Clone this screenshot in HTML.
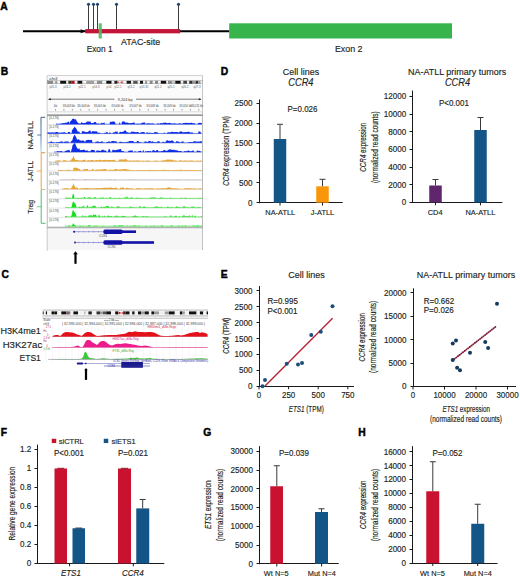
<!DOCTYPE html>
<html><head><meta charset="utf-8"><style>
html,body{margin:0;padding:0;background:#fff;}
svg{display:block;font-family:"Liberation Sans", sans-serif;}
text.t{stroke:#231f20;stroke-width:0.16px;paint-order:stroke;}
</style></head><body>
<svg width="520" height="578" viewBox="0 0 520 578">
<text x="0.30" y="9.60" font-size="10.3" text-anchor="start" font-weight="bold" font-style="normal" fill="#000" stroke="#000" stroke-width="0.45">A</text>
<text x="0.80" y="74.90" font-size="10.3" text-anchor="start" font-weight="bold" font-style="normal" fill="#000" stroke="#000" stroke-width="0.45">B</text>
<text x="1.50" y="278.20" font-size="10.3" text-anchor="start" font-weight="bold" font-style="normal" fill="#000" stroke="#000" stroke-width="0.45">C</text>
<text x="220.80" y="74.60" font-size="10.3" text-anchor="start" font-weight="bold" font-style="normal" fill="#000" stroke="#000" stroke-width="0.45">D</text>
<text x="220.80" y="277.60" font-size="10.3" text-anchor="start" font-weight="bold" font-style="normal" fill="#000" stroke="#000" stroke-width="0.45">E</text>
<text x="0.80" y="436.30" font-size="10.3" text-anchor="start" font-weight="bold" font-style="normal" fill="#000" stroke="#000" stroke-width="0.45">F</text>
<text x="203.20" y="436.30" font-size="10.3" text-anchor="start" font-weight="bold" font-style="normal" fill="#000" stroke="#000" stroke-width="0.45">G</text>
<text x="358.30" y="436.30" font-size="10.3" text-anchor="start" font-weight="bold" font-style="normal" fill="#000" stroke="#000" stroke-width="0.45">H</text>
<line x1="23.00" y1="31.25" x2="229.50" y2="31.25" stroke="#000" stroke-width="1.9" />
<polygon points="80.6,29.2 85.8,31.25 80.6,33.3" fill="#000"/>
<rect x="85.30" y="29.05" width="94.90" height="4.30" fill="#c3143a" />
<line x1="88.50" y1="4.50" x2="88.50" y2="29.40" stroke="#3c3c3c" stroke-width="1.0" />
<circle cx="88.5" cy="4.3" r="1.55" fill="#1f4670"/>
<line x1="93.50" y1="4.50" x2="93.50" y2="29.40" stroke="#3c3c3c" stroke-width="1.0" />
<circle cx="93.5" cy="4.3" r="1.55" fill="#1f4670"/>
<line x1="97.50" y1="4.50" x2="97.50" y2="29.40" stroke="#3c3c3c" stroke-width="1.0" />
<circle cx="97.5" cy="4.3" r="1.55" fill="#1f4670"/>
<line x1="116.50" y1="4.50" x2="116.50" y2="29.40" stroke="#3c3c3c" stroke-width="1.0" />
<circle cx="116.5" cy="4.3" r="1.55" fill="#1f4670"/>
<line x1="178.50" y1="4.50" x2="178.50" y2="29.40" stroke="#3c3c3c" stroke-width="1.0" />
<circle cx="178.5" cy="4.3" r="1.55" fill="#1f4670"/>
<rect x="98.70" y="23.30" width="3.10" height="15.20" fill="#4cbb5e" opacity="0.9"/>
<rect x="229.20" y="23.30" width="222.80" height="15.20" fill="#37b44b" />
<text class="t" transform="translate(86.70,51.90) scale(0.925,1)" font-size="8.96" text-anchor="start" font-weight="normal" font-style="normal" fill="#231f20" >Exon 1</text>
<text class="t" transform="translate(121.00,44.90) scale(0.925,1)" font-size="9.61" text-anchor="start" font-weight="normal" font-style="normal" fill="#231f20" >ATAC-site</text>
<text class="t" transform="translate(334.90,52.10) scale(0.925,1)" font-size="9.61" text-anchor="start" font-weight="normal" font-style="normal" fill="#231f20" >Exon 2</text>
<text class="t" transform="translate(300.90,74.50) scale(0.925,1)" font-size="9.72" text-anchor="middle" font-weight="normal" font-style="normal" fill="#231f20" >Cell lines</text>
<text class="t" transform="translate(300.90,86.30) scale(0.925,1)" font-size="10.04" text-anchor="middle" font-weight="normal" font-style="italic" fill="#231f20" >CCR4</text>
<line x1="259.50" y1="99.50" x2="259.50" y2="203.20" stroke="#1a1a1a" stroke-width="1.0" />
<line x1="256.50" y1="202.50" x2="259.50" y2="202.50" stroke="#1a1a1a" stroke-width="1.0" />
<text class="t" transform="translate(252.50,205.62) scale(0.925,1)" font-size="8.75" text-anchor="end" font-weight="normal" font-style="normal" fill="#231f20" >0</text>
<line x1="256.50" y1="182.50" x2="259.50" y2="182.50" stroke="#1a1a1a" stroke-width="1.0" />
<text class="t" transform="translate(252.50,185.72) scale(0.925,1)" font-size="8.75" text-anchor="end" font-weight="normal" font-style="normal" fill="#231f20" >500</text>
<line x1="256.50" y1="162.50" x2="259.50" y2="162.50" stroke="#1a1a1a" stroke-width="1.0" />
<text class="t" transform="translate(252.50,165.82) scale(0.925,1)" font-size="8.75" text-anchor="end" font-weight="normal" font-style="normal" fill="#231f20" >1000</text>
<line x1="256.50" y1="143.50" x2="259.50" y2="143.50" stroke="#1a1a1a" stroke-width="1.0" />
<text class="t" transform="translate(252.50,145.92) scale(0.925,1)" font-size="8.75" text-anchor="end" font-weight="normal" font-style="normal" fill="#231f20" >1500</text>
<line x1="256.50" y1="123.50" x2="259.50" y2="123.50" stroke="#1a1a1a" stroke-width="1.0" />
<text class="t" transform="translate(252.50,126.02) scale(0.925,1)" font-size="8.75" text-anchor="end" font-weight="normal" font-style="normal" fill="#231f20" >2000</text>
<line x1="256.50" y1="103.50" x2="259.50" y2="103.50" stroke="#1a1a1a" stroke-width="1.0" />
<text class="t" transform="translate(252.50,106.12) scale(0.925,1)" font-size="8.75" text-anchor="end" font-weight="normal" font-style="normal" fill="#231f20" >2500</text>
<line x1="258.50" y1="202.50" x2="342.70" y2="202.50" stroke="#1a1a1a" stroke-width="1.0" />
<rect x="273.75" y="139.02" width="12.50" height="63.68" fill="#145587" />
<line x1="280.00" y1="124.30" x2="280.00" y2="139.02" stroke="#3a3a3a" stroke-width="1.0" />
<line x1="277.00" y1="124.30" x2="283.00" y2="124.30" stroke="#3a3a3a" stroke-width="1.0" />
<rect x="316.25" y="186.30" width="12.50" height="16.40" fill="#fa960a" />
<line x1="322.50" y1="179.30" x2="322.50" y2="186.30" stroke="#3a3a3a" stroke-width="1.0" />
<line x1="319.50" y1="179.30" x2="325.50" y2="179.30" stroke="#3a3a3a" stroke-width="1.0" />
<line x1="280.00" y1="202.70" x2="280.00" y2="205.50" stroke="#1a1a1a" stroke-width="1.0" />
<line x1="322.50" y1="202.70" x2="322.50" y2="205.50" stroke="#1a1a1a" stroke-width="1.0" />
<text class="t" transform="translate(302.50,111.65) scale(0.925,1)" font-size="8.64" text-anchor="middle" font-weight="normal" font-style="normal" fill="#231f20" >P=0.026</text>
<text class="t" transform="translate(280.20,215.20) scale(0.925,1)" font-size="7.99" text-anchor="middle" font-weight="normal" font-style="normal" fill="#231f20" >NA-ATLL</text>
<text class="t" transform="translate(322.50,215.20) scale(0.925,1)" font-size="7.99" text-anchor="middle" font-weight="normal" font-style="normal" fill="#231f20" >J-ATLL</text>
<text class="t" x="0" y="0" font-size="8.40" text-anchor="middle" fill="#231f20" transform="translate(228.60,150.90) rotate(-90)" textLength="69.8" lengthAdjust="spacingAndGlyphs" ><tspan font-style="italic">CCR4</tspan> expression (TPM)</text>
<text class="t" transform="translate(457.10,74.50) scale(0.925,1)" font-size="9.72" text-anchor="middle" font-weight="normal" font-style="normal" fill="#231f20" >NA-ATLL primary tumors</text>
<text class="t" transform="translate(457.50,86.30) scale(0.925,1)" font-size="10.04" text-anchor="middle" font-weight="normal" font-style="italic" fill="#231f20" >CCR4</text>
<line x1="412.50" y1="90.50" x2="412.50" y2="203.00" stroke="#1a1a1a" stroke-width="1.0" />
<line x1="409.50" y1="202.50" x2="412.50" y2="202.50" stroke="#1a1a1a" stroke-width="1.0" />
<text class="t" transform="translate(406.25,205.42) scale(0.925,1)" font-size="8.75" text-anchor="end" font-weight="normal" font-style="normal" fill="#231f20" >0</text>
<line x1="409.50" y1="184.50" x2="412.50" y2="184.50" stroke="#1a1a1a" stroke-width="1.0" />
<text class="t" transform="translate(406.25,187.72) scale(0.925,1)" font-size="8.75" text-anchor="end" font-weight="normal" font-style="normal" fill="#231f20" >2000</text>
<line x1="409.50" y1="167.50" x2="412.50" y2="167.50" stroke="#1a1a1a" stroke-width="1.0" />
<text class="t" transform="translate(406.25,170.02) scale(0.925,1)" font-size="8.75" text-anchor="end" font-weight="normal" font-style="normal" fill="#231f20" >4000</text>
<line x1="409.50" y1="149.50" x2="412.50" y2="149.50" stroke="#1a1a1a" stroke-width="1.0" />
<text class="t" transform="translate(406.25,152.32) scale(0.925,1)" font-size="8.75" text-anchor="end" font-weight="normal" font-style="normal" fill="#231f20" >6000</text>
<line x1="409.50" y1="131.50" x2="412.50" y2="131.50" stroke="#1a1a1a" stroke-width="1.0" />
<text class="t" transform="translate(406.25,134.62) scale(0.925,1)" font-size="8.75" text-anchor="end" font-weight="normal" font-style="normal" fill="#231f20" >8000</text>
<line x1="409.50" y1="114.50" x2="412.50" y2="114.50" stroke="#1a1a1a" stroke-width="1.0" />
<text class="t" transform="translate(406.25,116.92) scale(0.925,1)" font-size="8.75" text-anchor="end" font-weight="normal" font-style="normal" fill="#231f20" >10000</text>
<line x1="409.50" y1="96.50" x2="412.50" y2="96.50" stroke="#1a1a1a" stroke-width="1.0" />
<text class="t" transform="translate(406.25,99.22) scale(0.925,1)" font-size="8.75" text-anchor="end" font-weight="normal" font-style="normal" fill="#231f20" >12000</text>
<line x1="412.25" y1="202.50" x2="502.30" y2="202.50" stroke="#1a1a1a" stroke-width="1.0" />
<rect x="429.25" y="185.50" width="12.50" height="17.00" fill="#5f266e" />
<line x1="435.50" y1="179.50" x2="435.50" y2="185.50" stroke="#3a3a3a" stroke-width="1.0" />
<line x1="432.50" y1="179.50" x2="438.50" y2="179.50" stroke="#3a3a3a" stroke-width="1.0" />
<rect x="474.25" y="130.00" width="12.50" height="72.50" fill="#145587" />
<line x1="480.50" y1="117.50" x2="480.50" y2="130.00" stroke="#3a3a3a" stroke-width="1.0" />
<line x1="477.50" y1="117.50" x2="483.50" y2="117.50" stroke="#3a3a3a" stroke-width="1.0" />
<line x1="435.50" y1="202.50" x2="435.50" y2="205.30" stroke="#1a1a1a" stroke-width="1.0" />
<line x1="480.50" y1="202.50" x2="480.50" y2="205.30" stroke="#1a1a1a" stroke-width="1.0" />
<text class="t" transform="translate(453.90,105.90) scale(0.925,1)" font-size="8.64" text-anchor="middle" font-weight="normal" font-style="normal" fill="#231f20" >P&lt;0.001</text>
<text class="t" transform="translate(435.10,215.20) scale(0.925,1)" font-size="7.99" text-anchor="middle" font-weight="normal" font-style="normal" fill="#231f20" >CD4</text>
<text class="t" transform="translate(480.40,215.20) scale(0.925,1)" font-size="7.99" text-anchor="middle" font-weight="normal" font-style="normal" fill="#231f20" >NA-ATLL</text>
<text class="t" x="0" y="0" font-size="8.40" text-anchor="middle" fill="#231f20" transform="translate(366.20,147.20) rotate(-90)" textLength="48.9" lengthAdjust="spacingAndGlyphs" ><tspan font-style="italic">CCR4</tspan> expression</text>
<text class="t" x="0" y="0" font-size="8.40" text-anchor="middle" fill="#231f20" transform="translate(377.90,147.20) rotate(-90)" textLength="71.7" lengthAdjust="spacingAndGlyphs" >(normalized read counts)</text>
<text class="t" transform="translate(306.50,277.50) scale(0.925,1)" font-size="9.72" text-anchor="middle" font-weight="normal" font-style="normal" fill="#231f20" >Cell lines</text>
<line x1="259.50" y1="286.00" x2="259.50" y2="386.80" stroke="#1a1a1a" stroke-width="1.0" />
<line x1="256.50" y1="386.50" x2="259.50" y2="386.50" stroke="#1a1a1a" stroke-width="1.0" />
<text class="t" transform="translate(252.50,389.22) scale(0.925,1)" font-size="8.75" text-anchor="end" font-weight="normal" font-style="normal" fill="#231f20" >0</text>
<line x1="256.50" y1="370.50" x2="259.50" y2="370.50" stroke="#1a1a1a" stroke-width="1.0" />
<text class="t" transform="translate(252.50,373.32) scale(0.925,1)" font-size="8.75" text-anchor="end" font-weight="normal" font-style="normal" fill="#231f20" >500</text>
<line x1="256.50" y1="354.50" x2="259.50" y2="354.50" stroke="#1a1a1a" stroke-width="1.0" />
<text class="t" transform="translate(252.50,357.42) scale(0.925,1)" font-size="8.75" text-anchor="end" font-weight="normal" font-style="normal" fill="#231f20" >1000</text>
<line x1="256.50" y1="338.50" x2="259.50" y2="338.50" stroke="#1a1a1a" stroke-width="1.0" />
<text class="t" transform="translate(252.50,341.52) scale(0.925,1)" font-size="8.75" text-anchor="end" font-weight="normal" font-style="normal" fill="#231f20" >1500</text>
<line x1="256.50" y1="322.50" x2="259.50" y2="322.50" stroke="#1a1a1a" stroke-width="1.0" />
<text class="t" transform="translate(252.50,325.62) scale(0.925,1)" font-size="8.75" text-anchor="end" font-weight="normal" font-style="normal" fill="#231f20" >2000</text>
<line x1="256.50" y1="306.50" x2="259.50" y2="306.50" stroke="#1a1a1a" stroke-width="1.0" />
<text class="t" transform="translate(252.50,309.72) scale(0.925,1)" font-size="8.75" text-anchor="end" font-weight="normal" font-style="normal" fill="#231f20" >2500</text>
<line x1="256.50" y1="290.50" x2="259.50" y2="290.50" stroke="#1a1a1a" stroke-width="1.0" />
<text class="t" transform="translate(252.50,293.82) scale(0.925,1)" font-size="8.75" text-anchor="end" font-weight="normal" font-style="normal" fill="#231f20" >3000</text>
<line x1="258.50" y1="386.50" x2="354.00" y2="386.50" stroke="#1a1a1a" stroke-width="1.0" />
<line x1="259.00" y1="386.30" x2="259.00" y2="389.30" stroke="#1a1a1a" stroke-width="1.0" />
<text class="t" transform="translate(259.00,398.40) scale(0.925,1)" font-size="8.64" text-anchor="middle" font-weight="normal" font-style="normal" fill="#231f20" >0</text>
<line x1="288.60" y1="386.30" x2="288.60" y2="389.30" stroke="#1a1a1a" stroke-width="1.0" />
<text class="t" transform="translate(288.60,398.40) scale(0.925,1)" font-size="8.64" text-anchor="middle" font-weight="normal" font-style="normal" fill="#231f20" >250</text>
<line x1="318.20" y1="386.30" x2="318.20" y2="389.30" stroke="#1a1a1a" stroke-width="1.0" />
<text class="t" transform="translate(318.20,398.40) scale(0.925,1)" font-size="8.64" text-anchor="middle" font-weight="normal" font-style="normal" fill="#231f20" >500</text>
<line x1="347.80" y1="386.30" x2="347.80" y2="389.30" stroke="#1a1a1a" stroke-width="1.0" />
<text class="t" transform="translate(347.80,398.40) scale(0.925,1)" font-size="8.64" text-anchor="middle" font-weight="normal" font-style="normal" fill="#231f20" >750</text>
<line x1="265.00" y1="386.00" x2="332.60" y2="318.20" stroke="#b81c34" stroke-width="1.3" />
<circle cx="262.5" cy="386.25" r="2.0" fill="#1c4f7c"/>
<circle cx="265" cy="380" r="2.0" fill="#1c4f7c"/>
<circle cx="286.75" cy="363.75" r="2.0" fill="#1c4f7c"/>
<circle cx="298" cy="364.5" r="2.0" fill="#1c4f7c"/>
<circle cx="302" cy="363" r="2.0" fill="#1c4f7c"/>
<circle cx="311.25" cy="335" r="2.0" fill="#1c4f7c"/>
<circle cx="320.75" cy="331.75" r="2.0" fill="#1c4f7c"/>
<circle cx="332.5" cy="306.25" r="2.0" fill="#1c4f7c"/>
<text class="t" transform="translate(267.50,304.15) scale(0.925,1)" font-size="8.64" text-anchor="start" font-weight="normal" font-style="normal" fill="#231f20" >R=0.995</text>
<text class="t" transform="translate(267.50,314.15) scale(0.925,1)" font-size="8.64" text-anchor="start" font-weight="normal" font-style="normal" fill="#231f20" >P&lt;0.001</text>
<text class="t" x="306.25" y="411.65" font-size="8.30" text-anchor="middle" font-weight="normal" font-style="normal" fill="#231f20" textLength="35" lengthAdjust="spacingAndGlyphs" ><tspan font-style="italic">ETS1</tspan> (TPM)</text>
<text class="t" x="0" y="0" font-size="8.40" text-anchor="middle" fill="#231f20" transform="translate(228.70,335.80) rotate(-90)" textLength="35.8" lengthAdjust="spacingAndGlyphs" ><tspan font-style="italic">CCR4</tspan> (TPM)</text>
<text class="t" transform="translate(466.00,277.50) scale(0.925,1)" font-size="9.72" text-anchor="middle" font-weight="normal" font-style="normal" fill="#231f20" >NA-ATLL primary tumors</text>
<line x1="413.50" y1="288.30" x2="413.50" y2="387.00" stroke="#1a1a1a" stroke-width="1.0" />
<line x1="410.50" y1="386.50" x2="413.50" y2="386.50" stroke="#1a1a1a" stroke-width="1.0" />
<text class="t" transform="translate(406.50,389.42) scale(0.925,1)" font-size="8.75" text-anchor="end" font-weight="normal" font-style="normal" fill="#231f20" >0</text>
<line x1="410.50" y1="363.50" x2="413.50" y2="363.50" stroke="#1a1a1a" stroke-width="1.0" />
<text class="t" transform="translate(406.50,366.02) scale(0.925,1)" font-size="8.75" text-anchor="end" font-weight="normal" font-style="normal" fill="#231f20" >5000</text>
<line x1="410.50" y1="339.50" x2="413.50" y2="339.50" stroke="#1a1a1a" stroke-width="1.0" />
<text class="t" transform="translate(406.50,342.62) scale(0.925,1)" font-size="8.75" text-anchor="end" font-weight="normal" font-style="normal" fill="#231f20" >10000</text>
<line x1="410.50" y1="316.50" x2="413.50" y2="316.50" stroke="#1a1a1a" stroke-width="1.0" />
<text class="t" transform="translate(406.50,319.22) scale(0.925,1)" font-size="8.75" text-anchor="end" font-weight="normal" font-style="normal" fill="#231f20" >15000</text>
<line x1="410.50" y1="292.50" x2="413.50" y2="292.50" stroke="#1a1a1a" stroke-width="1.0" />
<text class="t" transform="translate(406.50,295.82) scale(0.925,1)" font-size="8.75" text-anchor="end" font-weight="normal" font-style="normal" fill="#231f20" >20000</text>
<line x1="412.50" y1="386.50" x2="516.00" y2="386.50" stroke="#1a1a1a" stroke-width="1.0" />
<line x1="413.00" y1="386.50" x2="413.00" y2="389.50" stroke="#1a1a1a" stroke-width="1.0" />
<text class="t" transform="translate(413.00,398.40) scale(0.925,1)" font-size="8.64" text-anchor="middle" font-weight="normal" font-style="normal" fill="#231f20" >0</text>
<line x1="444.50" y1="386.50" x2="444.50" y2="389.50" stroke="#1a1a1a" stroke-width="1.0" />
<text class="t" transform="translate(444.50,398.40) scale(0.925,1)" font-size="8.64" text-anchor="middle" font-weight="normal" font-style="normal" fill="#231f20" >10000</text>
<line x1="476.00" y1="386.50" x2="476.00" y2="389.50" stroke="#1a1a1a" stroke-width="1.0" />
<text class="t" transform="translate(476.00,398.40) scale(0.925,1)" font-size="8.64" text-anchor="middle" font-weight="normal" font-style="normal" fill="#231f20" >20000</text>
<line x1="507.50" y1="386.50" x2="507.50" y2="389.50" stroke="#1a1a1a" stroke-width="1.0" />
<text class="t" transform="translate(507.50,398.40) scale(0.925,1)" font-size="8.64" text-anchor="middle" font-weight="normal" font-style="normal" fill="#231f20" >30000</text>
<line x1="452.75" y1="360.25" x2="496.25" y2="326.25" stroke="#7d1535" stroke-width="1.75" stroke-linecap="round" stroke-dasharray="0.4 1.75"/>
<circle cx="452.75" cy="343.5" r="2.0" fill="#163a5e"/>
<circle cx="456" cy="340.6" r="2.0" fill="#163a5e"/>
<circle cx="452.75" cy="360" r="2.0" fill="#163a5e"/>
<circle cx="457.1" cy="367.75" r="2.0" fill="#163a5e"/>
<circle cx="460" cy="370.25" r="2.0" fill="#163a5e"/>
<circle cx="470" cy="352.75" r="2.0" fill="#163a5e"/>
<circle cx="485.25" cy="341.9" r="2.0" fill="#163a5e"/>
<circle cx="488.1" cy="348.1" r="2.0" fill="#163a5e"/>
<circle cx="497" cy="303.75" r="2.0" fill="#163a5e"/>
<text class="t" transform="translate(423.75,304.15) scale(0.925,1)" font-size="8.64" text-anchor="start" font-weight="normal" font-style="normal" fill="#231f20" >R=0.662</text>
<text class="t" transform="translate(423.75,313.40) scale(0.925,1)" font-size="8.64" text-anchor="start" font-weight="normal" font-style="normal" fill="#231f20" >P=0.026</text>
<text class="t" x="466.25" y="411.65" font-size="8.30" text-anchor="middle" font-weight="normal" font-style="normal" fill="#231f20" textLength="47.5" lengthAdjust="spacingAndGlyphs" ><tspan font-style="italic">ETS1</tspan> expression</text>
<text class="t" x="466.00" y="422.40" font-size="8.30" text-anchor="middle" font-weight="normal" font-style="normal" fill="#231f20" textLength="72" lengthAdjust="spacingAndGlyphs" >(normalized read counts)</text>
<text class="t" x="0" y="0" font-size="8.40" text-anchor="middle" fill="#231f20" transform="translate(365.10,337.30) rotate(-90)" textLength="48.2" lengthAdjust="spacingAndGlyphs" ><tspan font-style="italic">CCR4</tspan> expression</text>
<text class="t" x="0" y="0" font-size="8.40" text-anchor="middle" fill="#231f20" transform="translate(376.30,336.90) rotate(-90)" textLength="72.2" lengthAdjust="spacingAndGlyphs" >(normalized read counts)</text>
<line x1="37.50" y1="444.60" x2="37.50" y2="564.00" stroke="#1a1a1a" stroke-width="1.0" />
<line x1="34.50" y1="563.50" x2="37.50" y2="563.50" stroke="#1a1a1a" stroke-width="1.0" />
<text class="t" transform="translate(31.25,566.42) scale(0.925,1)" font-size="8.75" text-anchor="end" font-weight="normal" font-style="normal" fill="#231f20" >0</text>
<line x1="34.50" y1="544.50" x2="37.50" y2="544.50" stroke="#1a1a1a" stroke-width="1.0" />
<text class="t" transform="translate(31.25,547.42) scale(0.925,1)" font-size="8.75" text-anchor="end" font-weight="normal" font-style="normal" fill="#231f20" >0.2</text>
<line x1="34.50" y1="525.50" x2="37.50" y2="525.50" stroke="#1a1a1a" stroke-width="1.0" />
<text class="t" transform="translate(31.25,528.42) scale(0.925,1)" font-size="8.75" text-anchor="end" font-weight="normal" font-style="normal" fill="#231f20" >0.4</text>
<line x1="34.50" y1="506.50" x2="37.50" y2="506.50" stroke="#1a1a1a" stroke-width="1.0" />
<text class="t" transform="translate(31.25,509.42) scale(0.925,1)" font-size="8.75" text-anchor="end" font-weight="normal" font-style="normal" fill="#231f20" >0.6</text>
<line x1="34.50" y1="487.50" x2="37.50" y2="487.50" stroke="#1a1a1a" stroke-width="1.0" />
<text class="t" transform="translate(31.25,490.42) scale(0.925,1)" font-size="8.75" text-anchor="end" font-weight="normal" font-style="normal" fill="#231f20" >0.8</text>
<line x1="34.50" y1="468.50" x2="37.50" y2="468.50" stroke="#1a1a1a" stroke-width="1.0" />
<text class="t" transform="translate(31.25,471.42) scale(0.925,1)" font-size="8.75" text-anchor="end" font-weight="normal" font-style="normal" fill="#231f20" >1</text>
<line x1="34.50" y1="449.50" x2="37.50" y2="449.50" stroke="#1a1a1a" stroke-width="1.0" />
<text class="t" transform="translate(31.25,452.42) scale(0.925,1)" font-size="8.75" text-anchor="end" font-weight="normal" font-style="normal" fill="#231f20" >1.2</text>
<line x1="37.25" y1="563.50" x2="164.25" y2="563.50" stroke="#1a1a1a" stroke-width="1.0" />
<rect x="54.50" y="468.50" width="12.50" height="95.00" fill="#c81230" />
<rect x="72.50" y="528.25" width="12.50" height="35.25" fill="#145587" />
<rect x="118.00" y="468.50" width="13.00" height="95.00" fill="#c81230" />
<rect x="136.25" y="508.40" width="13.00" height="55.10" fill="#145587" />
<line x1="142.70" y1="499.47" x2="142.70" y2="508.40" stroke="#3a3a3a" stroke-width="1.0" />
<line x1="139.70" y1="499.47" x2="145.70" y2="499.47" stroke="#3a3a3a" stroke-width="1.0" />
<line x1="57.30" y1="468.30" x2="64.20" y2="468.30" stroke="#7a0c1e" stroke-width="0.9" />
<line x1="121.00" y1="468.30" x2="128.00" y2="468.30" stroke="#7a0c1e" stroke-width="0.9" />
<line x1="75.40" y1="528.05" x2="82.20" y2="528.05" stroke="#0c2f50" stroke-width="0.9" />
<line x1="69.60" y1="563.50" x2="69.60" y2="566.30" stroke="#1a1a1a" stroke-width="1.0" />
<line x1="133.30" y1="563.50" x2="133.30" y2="566.30" stroke="#1a1a1a" stroke-width="1.0" />
<rect x="51.75" y="438.75" width="4.50" height="4.30" fill="#c81230" />
<rect x="103.75" y="438.75" width="4.50" height="4.30" fill="#145587" />
<text class="t" transform="translate(58.75,443.95) scale(0.925,1)" font-size="8.10" text-anchor="start" font-weight="normal" font-style="normal" fill="#231f20" >siCTRL</text>
<text class="t" transform="translate(111.50,443.95) scale(0.925,1)" font-size="8.10" text-anchor="start" font-weight="normal" font-style="normal" fill="#231f20" >siETS1</text>
<text class="t" transform="translate(68.90,455.90) scale(0.925,1)" font-size="8.64" text-anchor="middle" font-weight="normal" font-style="normal" fill="#231f20" >P&lt;0.001</text>
<text class="t" transform="translate(133.00,455.90) scale(0.925,1)" font-size="8.64" text-anchor="middle" font-weight="normal" font-style="normal" fill="#231f20" >P=0.021</text>
<text class="t" transform="translate(70.90,576.15) scale(0.925,1)" font-size="8.64" text-anchor="middle" font-weight="normal" font-style="italic" fill="#231f20" >ETS1</text>
<text class="t" transform="translate(132.90,576.15) scale(0.925,1)" font-size="8.64" text-anchor="middle" font-weight="normal" font-style="italic" fill="#231f20" >CCR4</text>
<text class="t" x="0" y="0" font-size="8.40" text-anchor="middle" fill="#231f20" transform="translate(15.00,503.60) rotate(-90)" textLength="73.6" lengthAdjust="spacingAndGlyphs" >Relative gene expression</text>
<line x1="259.50" y1="446.20" x2="259.50" y2="564.25" stroke="#1a1a1a" stroke-width="1.0" />
<line x1="256.50" y1="563.50" x2="259.50" y2="563.50" stroke="#1a1a1a" stroke-width="1.0" />
<text class="t" transform="translate(252.90,566.67) scale(0.925,1)" font-size="8.75" text-anchor="end" font-weight="normal" font-style="normal" fill="#231f20" >0</text>
<line x1="256.50" y1="545.50" x2="259.50" y2="545.50" stroke="#1a1a1a" stroke-width="1.0" />
<text class="t" transform="translate(252.90,547.92) scale(0.925,1)" font-size="8.75" text-anchor="end" font-weight="normal" font-style="normal" fill="#231f20" >5000</text>
<line x1="256.50" y1="526.50" x2="259.50" y2="526.50" stroke="#1a1a1a" stroke-width="1.0" />
<text class="t" transform="translate(252.90,529.17) scale(0.925,1)" font-size="8.75" text-anchor="end" font-weight="normal" font-style="normal" fill="#231f20" >10000</text>
<line x1="256.50" y1="507.50" x2="259.50" y2="507.50" stroke="#1a1a1a" stroke-width="1.0" />
<text class="t" transform="translate(252.90,510.42) scale(0.925,1)" font-size="8.75" text-anchor="end" font-weight="normal" font-style="normal" fill="#231f20" >15000</text>
<line x1="256.50" y1="488.50" x2="259.50" y2="488.50" stroke="#1a1a1a" stroke-width="1.0" />
<text class="t" transform="translate(252.90,491.67) scale(0.925,1)" font-size="8.75" text-anchor="end" font-weight="normal" font-style="normal" fill="#231f20" >20000</text>
<line x1="256.50" y1="470.50" x2="259.50" y2="470.50" stroke="#1a1a1a" stroke-width="1.0" />
<text class="t" transform="translate(252.90,472.92) scale(0.925,1)" font-size="8.75" text-anchor="end" font-weight="normal" font-style="normal" fill="#231f20" >25000</text>
<line x1="256.50" y1="451.50" x2="259.50" y2="451.50" stroke="#1a1a1a" stroke-width="1.0" />
<text class="t" transform="translate(252.90,454.17) scale(0.925,1)" font-size="8.75" text-anchor="end" font-weight="normal" font-style="normal" fill="#231f20" >30000</text>
<line x1="258.90" y1="563.50" x2="338.75" y2="563.50" stroke="#1a1a1a" stroke-width="1.0" />
<rect x="270.25" y="486.25" width="12.75" height="77.50" fill="#c81230" />
<line x1="276.80" y1="465.75" x2="276.80" y2="486.25" stroke="#3a3a3a" stroke-width="1.0" />
<line x1="273.80" y1="465.75" x2="279.80" y2="465.75" stroke="#3a3a3a" stroke-width="1.0" />
<rect x="315.00" y="512.00" width="13.00" height="51.75" fill="#145587" />
<line x1="321.50" y1="508.75" x2="321.50" y2="512.00" stroke="#3a3a3a" stroke-width="1.0" />
<line x1="318.50" y1="508.75" x2="324.50" y2="508.75" stroke="#3a3a3a" stroke-width="1.0" />
<line x1="276.80" y1="563.75" x2="276.80" y2="566.50" stroke="#1a1a1a" stroke-width="1.0" />
<line x1="321.60" y1="563.75" x2="321.60" y2="566.50" stroke="#1a1a1a" stroke-width="1.0" />
<text class="t" transform="translate(294.00,455.90) scale(0.925,1)" font-size="8.64" text-anchor="middle" font-weight="normal" font-style="normal" fill="#231f20" >P=0.039</text>
<text class="t" transform="translate(276.25,575.95) scale(0.925,1)" font-size="7.99" text-anchor="middle" font-weight="normal" font-style="normal" fill="#231f20" >Wt N=5</text>
<text class="t" transform="translate(321.90,575.95) scale(0.925,1)" font-size="7.99" text-anchor="middle" font-weight="normal" font-style="normal" fill="#231f20" >Mut N=4</text>
<text class="t" x="0" y="0" font-size="8.40" text-anchor="middle" fill="#231f20" transform="translate(211.30,504.75) rotate(-90)" textLength="48.5" lengthAdjust="spacingAndGlyphs" ><tspan font-style="italic">ETS1</tspan> expression</text>
<text class="t" x="0" y="0" font-size="8.40" text-anchor="middle" fill="#231f20" transform="translate(222.70,505.00) rotate(-90)" textLength="72.5" lengthAdjust="spacingAndGlyphs" >(normalized read counts)</text>
<line x1="412.50" y1="446.20" x2="412.50" y2="563.75" stroke="#1a1a1a" stroke-width="1.0" />
<line x1="409.50" y1="563.50" x2="412.50" y2="563.50" stroke="#1a1a1a" stroke-width="1.0" />
<text class="t" transform="translate(406.10,566.17) scale(0.925,1)" font-size="8.75" text-anchor="end" font-weight="normal" font-style="normal" fill="#231f20" >0</text>
<line x1="409.50" y1="549.50" x2="412.50" y2="549.50" stroke="#1a1a1a" stroke-width="1.0" />
<text class="t" transform="translate(406.10,552.22) scale(0.925,1)" font-size="8.75" text-anchor="end" font-weight="normal" font-style="normal" fill="#231f20" >2000</text>
<line x1="409.50" y1="535.50" x2="412.50" y2="535.50" stroke="#1a1a1a" stroke-width="1.0" />
<text class="t" transform="translate(406.10,538.27) scale(0.925,1)" font-size="8.75" text-anchor="end" font-weight="normal" font-style="normal" fill="#231f20" >4000</text>
<line x1="409.50" y1="521.50" x2="412.50" y2="521.50" stroke="#1a1a1a" stroke-width="1.0" />
<text class="t" transform="translate(406.10,524.32) scale(0.925,1)" font-size="8.75" text-anchor="end" font-weight="normal" font-style="normal" fill="#231f20" >6000</text>
<line x1="409.50" y1="507.50" x2="412.50" y2="507.50" stroke="#1a1a1a" stroke-width="1.0" />
<text class="t" transform="translate(406.10,510.37) scale(0.925,1)" font-size="8.75" text-anchor="end" font-weight="normal" font-style="normal" fill="#231f20" >8000</text>
<line x1="409.50" y1="493.50" x2="412.50" y2="493.50" stroke="#1a1a1a" stroke-width="1.0" />
<text class="t" transform="translate(406.10,496.42) scale(0.925,1)" font-size="8.75" text-anchor="end" font-weight="normal" font-style="normal" fill="#231f20" >10000</text>
<line x1="409.50" y1="479.50" x2="412.50" y2="479.50" stroke="#1a1a1a" stroke-width="1.0" />
<text class="t" transform="translate(406.10,482.47) scale(0.925,1)" font-size="8.75" text-anchor="end" font-weight="normal" font-style="normal" fill="#231f20" >12000</text>
<line x1="409.50" y1="465.50" x2="412.50" y2="465.50" stroke="#1a1a1a" stroke-width="1.0" />
<text class="t" transform="translate(406.10,468.52) scale(0.925,1)" font-size="8.75" text-anchor="end" font-weight="normal" font-style="normal" fill="#231f20" >14000</text>
<line x1="409.50" y1="451.50" x2="412.50" y2="451.50" stroke="#1a1a1a" stroke-width="1.0" />
<text class="t" transform="translate(406.10,454.57) scale(0.925,1)" font-size="8.75" text-anchor="end" font-weight="normal" font-style="normal" fill="#231f20" >16000</text>
<line x1="412.10" y1="563.50" x2="497.50" y2="563.50" stroke="#1a1a1a" stroke-width="1.0" />
<rect x="426.25" y="491.25" width="13.00" height="72.00" fill="#c81230" />
<line x1="432.80" y1="461.75" x2="432.80" y2="491.25" stroke="#3a3a3a" stroke-width="1.0" />
<line x1="429.80" y1="461.75" x2="435.80" y2="461.75" stroke="#3a3a3a" stroke-width="1.0" />
<rect x="471.25" y="523.75" width="13.00" height="39.50" fill="#145587" />
<line x1="477.70" y1="504.25" x2="477.70" y2="523.75" stroke="#3a3a3a" stroke-width="1.0" />
<line x1="474.70" y1="504.25" x2="480.70" y2="504.25" stroke="#3a3a3a" stroke-width="1.0" />
<line x1="432.80" y1="563.25" x2="432.80" y2="566.00" stroke="#1a1a1a" stroke-width="1.0" />
<line x1="477.70" y1="563.25" x2="477.70" y2="566.00" stroke="#1a1a1a" stroke-width="1.0" />
<text class="t" transform="translate(447.50,456.15) scale(0.925,1)" font-size="8.64" text-anchor="middle" font-weight="normal" font-style="normal" fill="#231f20" >P=0.052</text>
<text class="t" transform="translate(432.50,575.70) scale(0.925,1)" font-size="7.99" text-anchor="middle" font-weight="normal" font-style="normal" fill="#231f20" >Wt N=5</text>
<text class="t" transform="translate(477.75,575.70) scale(0.925,1)" font-size="7.99" text-anchor="middle" font-weight="normal" font-style="normal" fill="#231f20" >Mut N=4</text>
<text class="t" x="0" y="0" font-size="8.40" text-anchor="middle" fill="#231f20" transform="translate(366.30,504.70) rotate(-90)" textLength="48.4" lengthAdjust="spacingAndGlyphs" ><tspan font-style="italic">CCR4</tspan> expression</text>
<text class="t" x="0" y="0" font-size="8.40" text-anchor="middle" fill="#231f20" transform="translate(377.70,505.00) rotate(-90)" textLength="72.5" lengthAdjust="spacingAndGlyphs" >(normalized read counts)</text>
<line x1="47.25" y1="75.75" x2="202.50" y2="75.75" stroke="#9a9a9a" stroke-width="0.6" />
<line x1="47.25" y1="75.75" x2="47.25" y2="250.50" stroke="#9a9a9a" stroke-width="0.7" />
<line x1="202.50" y1="75.75" x2="202.50" y2="250.00" stroke="#9a9a9a" stroke-width="0.7" />
<rect x="47.55" y="76.10" width="154.65" height="39.00" fill="#fbfbfb" />
<text x="49.30" y="79.60" font-size="4.2" text-anchor="start" font-weight="normal" font-style="italic" fill="#333" >chr3</text>
<rect x="47.50" y="80.80" width="5.80" height="3.00" fill="#8a8a8a" />
<rect x="53.30" y="80.80" width="1.90" height="3.00" fill="#e8e8e8" />
<rect x="55.20" y="80.80" width="2.30" height="3.00" fill="#9a9a9a" />
<rect x="57.50" y="80.80" width="2.70" height="3.00" fill="#f4f4f4" />
<rect x="60.20" y="80.80" width="6.20" height="3.00" fill="#111" />
<rect x="66.40" y="80.80" width="1.90" height="3.00" fill="#f4f4f4" />
<rect x="68.30" y="80.80" width="3.50" height="3.00" fill="#3a3420" />
<rect x="71.80" y="80.80" width="3.00" height="3.00" fill="#b01020" />
<rect x="74.80" y="80.80" width="2.70" height="3.00" fill="#f4f4f4" />
<rect x="77.50" y="80.80" width="5.00" height="3.00" fill="#151515" />
<rect x="82.50" y="80.80" width="3.80" height="3.00" fill="#f4f4f4" />
<rect x="86.30" y="80.80" width="7.70" height="3.00" fill="#a0a0a0" />
<rect x="94.00" y="80.80" width="3.00" height="3.00" fill="#f0f0f0" />
<rect x="97.00" y="80.80" width="5.50" height="3.00" fill="#8c8c8c" />
<rect x="102.50" y="80.80" width="3.80" height="3.00" fill="#f4f4f4" />
<rect x="106.30" y="80.80" width="5.40" height="3.00" fill="#111" />
<rect x="111.70" y="80.80" width="2.70" height="3.00" fill="#f4f4f4" />
<rect x="114.40" y="80.80" width="2.60" height="3.00" fill="#222" />
<rect x="117.00" y="80.80" width="5.50" height="3.00" fill="#fff" />
<rect x="122.50" y="80.80" width="1.00" height="3.00" fill="#e0a0a0" />
<rect x="123.50" y="80.80" width="3.10" height="3.00" fill="#f4f4f4" />
<rect x="126.60" y="80.80" width="4.60" height="3.00" fill="#1a1a1a" />
<rect x="131.20" y="80.80" width="2.00" height="3.00" fill="#f4f4f4" />
<rect x="133.20" y="80.80" width="4.60" height="3.00" fill="#555" />
<rect x="137.80" y="80.80" width="2.20" height="3.00" fill="#f4f4f4" />
<rect x="140.00" y="80.80" width="3.20" height="3.00" fill="#111" />
<rect x="143.20" y="80.80" width="1.80" height="3.00" fill="#f4f4f4" />
<rect x="145.00" y="80.80" width="2.40" height="3.00" fill="#999" />
<rect x="147.40" y="80.80" width="2.30" height="3.00" fill="#f4f4f4" />
<rect x="149.70" y="80.80" width="3.10" height="3.00" fill="#888" />
<rect x="152.80" y="80.80" width="2.20" height="3.00" fill="#f4f4f4" />
<rect x="155.00" y="80.80" width="3.20" height="3.00" fill="#8a8a8a" />
<rect x="158.20" y="80.80" width="2.60" height="3.00" fill="#f4f4f4" />
<rect x="160.80" y="80.80" width="5.60" height="3.00" fill="#111" />
<rect x="166.40" y="80.80" width="1.60" height="3.00" fill="#f4f4f4" />
<rect x="168.00" y="80.80" width="3.90" height="3.00" fill="#888" />
<rect x="171.90" y="80.80" width="3.40" height="3.00" fill="#c8c8c8" />
<rect x="175.30" y="80.80" width="5.50" height="3.00" fill="#111" />
<rect x="180.80" y="80.80" width="2.50" height="3.00" fill="#f4f4f4" />
<rect x="183.30" y="80.80" width="3.80" height="3.00" fill="#444" />
<rect x="187.10" y="80.80" width="2.10" height="3.00" fill="#f4f4f4" />
<rect x="189.20" y="80.80" width="3.40" height="3.00" fill="#333" />
<rect x="192.60" y="80.80" width="3.00" height="3.00" fill="#999" />
<rect x="195.60" y="80.80" width="2.50" height="3.00" fill="#333" />
<rect x="198.10" y="80.80" width="2.60" height="3.00" fill="#999" />
<rect x="200.70" y="80.80" width="1.50" height="3.00" fill="#f4f4f4" />
<path d="M117,80.8 L119.8,82.3 L117,83.8 Z M122.5,80.8 L119.8,82.3 L122.5,83.8 Z" fill="#c03030" opacity="0.8"/>
<rect x="47.5" y="80.8" width="154.7" height="3" fill="none" stroke="#666" stroke-width="0.3"/>
<text x="53.00" y="87.80" font-size="2.9" text-anchor="middle" font-weight="normal" font-style="normal" fill="#666" >p25.3</text>
<text x="67.00" y="87.80" font-size="2.9" text-anchor="middle" font-weight="normal" font-style="normal" fill="#666" >p24.2</text>
<text x="82.00" y="87.80" font-size="2.9" text-anchor="middle" font-weight="normal" font-style="normal" fill="#666" >p22.1</text>
<text x="96.00" y="87.80" font-size="2.9" text-anchor="middle" font-weight="normal" font-style="normal" fill="#666" >p14.3</text>
<text x="109.00" y="87.80" font-size="2.9" text-anchor="middle" font-weight="normal" font-style="normal" fill="#666" >p14</text>
<text x="118.00" y="87.80" font-size="2.9" text-anchor="middle" font-weight="normal" font-style="normal" fill="#666" >p12.1</text>
<text x="131.00" y="87.80" font-size="2.9" text-anchor="middle" font-weight="normal" font-style="normal" fill="#666" >q13.2</text>
<text x="144.00" y="87.80" font-size="2.9" text-anchor="middle" font-weight="normal" font-style="normal" fill="#666" >q13.32</text>
<text x="158.00" y="87.80" font-size="2.9" text-anchor="middle" font-weight="normal" font-style="normal" fill="#666" >q21.2</text>
<text x="171.00" y="87.80" font-size="2.9" text-anchor="middle" font-weight="normal" font-style="normal" fill="#666" >q25.1</text>
<text x="185.00" y="87.80" font-size="2.9" text-anchor="middle" font-weight="normal" font-style="normal" fill="#666" >q26.2</text>
<text x="197.00" y="87.80" font-size="2.9" text-anchor="middle" font-weight="normal" font-style="normal" fill="#666" >q27.3</text>
<line x1="48.50" y1="99.20" x2="114.50" y2="99.20" stroke="#222" stroke-width="0.6" />
<line x1="136.00" y1="99.20" x2="201.00" y2="99.20" stroke="#222" stroke-width="0.6" />
<path d="M48.2,99.2 L50.8,98.2 L50.8,100.2 Z M201.4,99.2 L198.8,98.2 L198.8,100.2 Z" fill="#111"/>
<text x="125.20" y="100.60" font-size="3.8" text-anchor="middle" font-weight="normal" font-style="normal" fill="#333" >9,204 bp</text>
<text x="55.50" y="107.20" font-size="2.8" text-anchor="middle" font-weight="normal" font-style="normal" fill="#444" >kb</text>
<text x="68.80" y="107.20" font-size="2.8" text-anchor="middle" font-weight="normal" font-style="normal" fill="#444" >33,003 kb</text>
<text x="83.40" y="107.20" font-size="2.8" text-anchor="middle" font-weight="normal" font-style="normal" fill="#444" >33,004 kb</text>
<text x="99.80" y="107.20" font-size="2.8" text-anchor="middle" font-weight="normal" font-style="normal" fill="#444" >33,005 kb</text>
<text x="117.50" y="107.20" font-size="2.8" text-anchor="middle" font-weight="normal" font-style="normal" fill="#444" >33,006 kb</text>
<text x="135.50" y="107.20" font-size="2.8" text-anchor="middle" font-weight="normal" font-style="normal" fill="#444" >33,007 kb</text>
<text x="152.50" y="107.20" font-size="2.8" text-anchor="middle" font-weight="normal" font-style="normal" fill="#444" >33,008 kb</text>
<text x="169.40" y="107.20" font-size="2.8" text-anchor="middle" font-weight="normal" font-style="normal" fill="#444" >33,009 kb</text>
<text x="185.50" y="107.20" font-size="2.8" text-anchor="middle" font-weight="normal" font-style="normal" fill="#444" >33,010 kb</text>
<text x="197.00" y="107.20" font-size="2.8" text-anchor="middle" font-weight="normal" font-style="normal" fill="#444" >33,011 kb</text>
<line x1="55.50" y1="108.90" x2="55.50" y2="110.60" stroke="#444" stroke-width="0.5" />
<line x1="63.93" y1="108.90" x2="63.93" y2="110.60" stroke="#444" stroke-width="0.5" />
<line x1="72.36" y1="108.90" x2="72.36" y2="110.60" stroke="#444" stroke-width="0.5" />
<line x1="80.79" y1="108.90" x2="80.79" y2="110.60" stroke="#444" stroke-width="0.5" />
<line x1="89.22" y1="108.90" x2="89.22" y2="110.60" stroke="#444" stroke-width="0.5" />
<line x1="97.65" y1="108.90" x2="97.65" y2="110.60" stroke="#444" stroke-width="0.5" />
<line x1="106.08" y1="108.90" x2="106.08" y2="110.60" stroke="#444" stroke-width="0.5" />
<line x1="114.51" y1="108.90" x2="114.51" y2="110.60" stroke="#444" stroke-width="0.5" />
<line x1="122.94" y1="108.90" x2="122.94" y2="110.60" stroke="#444" stroke-width="0.5" />
<line x1="131.37" y1="108.90" x2="131.37" y2="110.60" stroke="#444" stroke-width="0.5" />
<line x1="139.80" y1="108.90" x2="139.80" y2="110.60" stroke="#444" stroke-width="0.5" />
<line x1="148.23" y1="108.90" x2="148.23" y2="110.60" stroke="#444" stroke-width="0.5" />
<line x1="156.66" y1="108.90" x2="156.66" y2="110.60" stroke="#444" stroke-width="0.5" />
<line x1="165.09" y1="108.90" x2="165.09" y2="110.60" stroke="#444" stroke-width="0.5" />
<line x1="173.52" y1="108.90" x2="173.52" y2="110.60" stroke="#444" stroke-width="0.5" />
<line x1="181.95" y1="108.90" x2="181.95" y2="110.60" stroke="#444" stroke-width="0.5" />
<line x1="190.38" y1="108.90" x2="190.38" y2="110.60" stroke="#444" stroke-width="0.5" />
<line x1="198.81" y1="108.90" x2="198.81" y2="110.60" stroke="#444" stroke-width="0.5" />
<line x1="47.25" y1="111.80" x2="202.50" y2="111.80" stroke="#bbb" stroke-width="0.5" />
<line x1="47.25" y1="115.10" x2="202.50" y2="115.10" stroke="#777" stroke-width="1.3" />
<line x1="47.25" y1="124.62" x2="202.50" y2="124.62" stroke="#c8c8c8" stroke-width="0.5" />
<text x="49.30" y="118.90" font-size="3.0" text-anchor="start" font-weight="normal" font-style="normal" fill="#484848" >[0-176]</text>
<path d="M56.00,124.17 L56.00,123.75 L56.50,123.63 L57.00,123.68 L57.50,124.17 L58.00,124.17 L58.50,123.81 L59.00,124.17 L59.50,123.81 L60.00,123.73 L60.50,123.75 L61.00,123.49 L61.50,123.42 L62.00,123.53 L62.50,123.20 L63.00,123.13 L63.50,123.11 L64.00,123.06 L64.50,123.18 L65.00,122.73 L65.50,122.63 L66.00,122.73 L66.50,122.69 L67.00,122.43 L67.50,122.13 L68.00,121.89 L68.50,121.84 L69.00,121.54 L69.50,124.17 L70.00,121.80 L70.50,121.30 L71.00,120.84 L71.50,120.42 L72.00,119.13 L72.50,118.82 L73.00,119.22 L73.50,118.37 L74.00,118.90 L74.50,119.23 L75.00,119.51 L75.50,119.33 L76.00,119.49 L76.50,120.72 L77.00,121.79 L77.50,122.15 L78.00,122.58 L78.50,123.47 L79.00,123.44 L79.50,123.51 L80.00,123.57 L80.50,123.55 L81.00,123.51 L81.50,122.00 L82.00,121.96 L82.50,123.14 L83.00,123.03 L83.50,123.04 L84.00,123.05 L84.50,122.95 L85.00,122.89 L85.50,122.83 L86.00,122.86 L86.50,121.63 L87.00,121.63 L87.50,121.62 L88.00,121.51 L88.50,121.56 L89.00,121.68 L89.50,121.61 L90.00,121.61 L90.50,121.52 L91.00,123.04 L91.50,123.15 L92.00,123.05 L92.50,123.09 L93.00,123.24 L93.50,123.24 L94.00,121.93 L94.50,121.90 L95.00,122.03 L95.50,122.09 L96.00,122.22 L96.50,123.38 L97.00,123.42 L97.50,123.50 L98.00,123.64 L98.50,123.60 L99.00,123.69 L99.50,123.72 L100.00,123.65 L100.50,123.74 L101.00,123.67 L101.50,122.86 L102.00,122.58 L102.50,123.32 L103.00,123.29 L103.50,123.05 L104.00,122.57 L104.50,122.39 L105.00,124.17 L105.50,124.17 L106.00,124.17 L106.50,124.17 L107.00,124.17 L107.50,124.17 L108.00,124.17 L108.50,124.17 L109.00,124.17 L109.50,124.17 L110.00,121.85 L110.50,121.78 L111.00,121.92 L111.50,121.84 L112.00,121.75 L112.50,121.43 L113.00,121.50 L113.50,121.62 L114.00,121.72 L114.50,121.75 L115.00,121.83 L115.50,124.17 L116.00,124.17 L116.50,124.17 L117.00,124.17 L117.50,124.17 L118.00,124.17 L118.50,124.17 L119.00,124.17 L119.50,122.56 L120.00,122.43 L120.50,124.17 L121.00,124.17 L121.50,124.17 L122.00,121.49 L122.50,121.50 L123.00,121.49 L123.50,121.44 L124.00,121.37 L124.50,121.51 L125.00,122.58 L125.50,122.44 L126.00,122.40 L126.50,122.53 L127.00,122.69 L127.50,122.55 L128.00,122.83 L128.50,122.99 L129.00,123.18 L129.50,122.94 L130.00,123.23 L130.50,123.14 L131.00,122.94 L131.50,123.01 L132.00,123.05 L132.50,122.88 L133.00,122.85 L133.50,122.45 L134.00,122.53 L134.50,122.62 L135.00,123.84 L135.50,124.17 L136.00,123.79 L136.50,123.82 L137.00,123.87 L137.50,123.83 L138.00,123.84 L138.50,123.76 L139.00,123.85 L139.50,123.68 L140.00,123.79 L140.50,123.74 L141.00,123.75 L141.50,122.88 L142.00,122.82 L142.50,122.81 L143.00,122.76 L143.50,122.56 L144.00,122.47 L144.50,122.49 L145.00,122.36 L145.50,124.17 L146.00,124.17 L146.50,123.39 L147.00,123.42 L147.50,123.36 L148.00,123.41 L148.50,123.30 L149.00,123.36 L149.50,123.53 L150.00,123.58 L150.50,123.51 L151.00,123.53 L151.50,123.43 L152.00,123.39 L152.50,123.38 L153.00,123.51 L153.50,123.38 L154.00,123.50 L154.50,124.17 L155.00,124.17 L155.50,124.17 L156.00,124.17 L156.50,124.17 L157.00,123.57 L157.50,123.56 L158.00,123.51 L158.50,123.49 L159.00,123.70 L159.50,123.63 L160.00,123.61 L160.50,123.11 L161.00,123.14 L161.50,123.04 L162.00,123.36 L162.50,123.46 L163.00,122.80 L163.50,122.86 L164.00,122.80 L164.50,122.70 L165.00,122.79 L165.50,122.61 L166.00,122.84 L166.50,122.83 L167.00,123.20 L167.50,123.21 L168.00,123.04 L168.50,122.95 L169.00,122.94 L169.50,122.77 L170.00,122.97 L170.50,123.10 L171.00,123.39 L171.50,123.45 L172.00,123.57 L172.50,123.62 L173.00,123.65 L173.50,123.74 L174.00,123.18 L174.50,123.21 L175.00,123.14 L175.50,123.68 L176.00,123.70 L176.50,123.78 L177.00,123.69 L177.50,123.69 L178.00,123.63 L178.50,123.49 L179.00,123.54 L179.50,123.49 L180.00,123.33 L180.50,123.49 L181.00,123.45 L181.50,123.64 L182.00,123.67 L182.50,123.68 L183.00,122.91 L183.50,122.94 L184.00,122.90 L184.50,122.93 L185.00,122.95 L185.50,122.82 L186.00,122.81 L186.50,122.85 L187.00,123.03 L187.50,123.10 L188.00,123.12 L188.50,123.01 L189.00,122.83 L189.50,122.90 L190.00,123.03 L190.50,123.02 L191.00,122.84 L191.50,122.86 L192.00,122.79 L192.50,123.23 L193.00,123.23 L193.50,123.24 L194.00,123.30 L194.50,123.27 L195.00,123.49 L195.50,124.17 L196.00,124.17 L196.50,124.17 L197.00,124.17 L197.50,124.17 L198.00,122.95 L198.50,122.95 L199.00,122.91 L199.50,122.84 L200.00,122.83 L200.50,122.84 L201.00,123.23 L201.50,123.32 L202.00,123.27 L202.00,124.17 Z" fill="#0d2ee6"/>
<line x1="56.00" y1="124.17" x2="202.00" y2="124.17" stroke="#0d2ee6" stroke-width="0.55" />
<line x1="47.25" y1="133.89" x2="202.50" y2="133.89" stroke="#c8c8c8" stroke-width="0.5" />
<text x="49.30" y="128.17" font-size="3.0" text-anchor="start" font-weight="normal" font-style="normal" fill="#484848" >[0-176]</text>
<path d="M47.50,133.44 L47.50,132.41 L48.00,132.36 L48.50,132.39 L49.00,132.35 L49.50,132.39 L50.00,132.39 L50.50,132.52 L51.00,132.43 L51.50,132.38 L52.00,132.41 L52.50,132.38 L53.00,132.37 L53.50,132.54 L54.00,132.42 L54.50,132.46 L55.00,132.47 L55.50,132.36 L56.00,131.98 L56.50,131.93 L57.00,131.90 L57.50,132.00 L58.00,132.06 L58.50,132.78 L59.00,132.76 L59.50,132.77 L60.00,132.73 L60.50,132.65 L61.00,132.49 L61.50,132.46 L62.00,132.47 L62.50,132.55 L63.00,132.51 L63.50,132.27 L64.00,132.25 L64.50,132.26 L65.00,132.21 L65.50,132.99 L66.00,132.97 L66.50,132.93 L67.00,133.44 L67.50,133.44 L68.00,131.98 L68.50,131.89 L69.00,132.03 L69.50,131.98 L70.00,131.95 L70.50,133.44 L71.00,133.44 L71.50,133.44 L72.00,130.09 L72.50,129.84 L73.00,128.69 L73.50,128.35 L74.00,127.77 L74.50,126.39 L75.00,126.74 L75.50,128.14 L76.00,128.08 L76.50,129.07 L77.00,130.27 L77.50,131.36 L78.00,131.57 L78.50,131.67 L79.00,131.72 L79.50,131.74 L80.00,133.44 L80.50,133.44 L81.00,133.44 L81.50,133.44 L82.00,131.23 L82.50,131.34 L83.00,131.21 L83.50,131.28 L84.00,131.31 L84.50,131.44 L85.00,132.02 L85.50,132.05 L86.00,132.24 L86.50,132.12 L87.00,132.08 L87.50,132.05 L88.00,131.64 L88.50,131.61 L89.00,130.71 L89.50,130.68 L90.00,130.62 L90.50,130.53 L91.00,132.68 L91.50,132.59 L92.00,130.91 L92.50,131.13 L93.00,131.23 L93.50,131.30 L94.00,131.39 L94.50,131.27 L95.00,131.27 L95.50,131.44 L96.00,131.28 L96.50,131.45 L97.00,131.34 L97.50,132.56 L98.00,132.68 L98.50,132.75 L99.00,132.78 L99.50,132.71 L100.00,132.63 L100.50,133.44 L101.00,133.44 L101.50,133.44 L102.00,133.44 L102.50,133.44 L103.00,133.44 L103.50,133.44 L104.00,133.44 L104.50,132.76 L105.00,132.71 L105.50,132.72 L106.00,132.69 L106.50,131.89 L107.00,131.93 L107.50,131.91 L108.00,133.44 L108.50,133.44 L109.00,132.67 L109.50,132.61 L110.00,132.54 L110.50,132.64 L111.00,133.44 L111.50,133.44 L112.00,133.44 L112.50,133.44 L113.00,132.32 L113.50,132.39 L114.00,132.44 L114.50,132.30 L115.00,132.28 L115.50,131.52 L116.00,131.57 L116.50,131.65 L117.00,131.50 L117.50,131.51 L118.00,133.44 L118.50,133.44 L119.00,133.44 L119.50,131.91 L120.00,131.79 L120.50,131.86 L121.00,131.92 L121.50,132.00 L122.00,132.00 L122.50,131.79 L123.00,131.79 L123.50,131.75 L124.00,130.77 L124.50,130.55 L125.00,130.82 L125.50,130.46 L126.00,130.61 L126.50,132.02 L127.00,132.17 L127.50,132.18 L128.00,132.34 L128.50,132.72 L129.00,132.73 L129.50,132.85 L130.00,132.79 L130.50,132.94 L131.00,131.62 L131.50,131.70 L132.00,131.75 L132.50,131.78 L133.00,131.76 L133.50,131.78 L134.00,131.83 L134.50,131.91 L135.00,131.93 L135.50,132.21 L136.00,132.04 L136.50,132.13 L137.00,132.12 L137.50,132.03 L138.00,132.02 L138.50,131.88 L139.00,132.91 L139.50,133.00 L140.00,132.95 L140.50,132.53 L141.00,132.37 L141.50,132.37 L142.00,132.14 L142.50,132.01 L143.00,132.03 L143.50,132.04 L144.00,131.90 L144.50,132.01 L145.00,133.44 L145.50,133.44 L146.00,133.44 L146.50,132.33 L147.00,132.43 L147.50,132.57 L148.00,132.65 L148.50,132.63 L149.00,132.70 L149.50,132.64 L150.00,132.68 L150.50,132.63 L151.00,132.76 L151.50,132.97 L152.00,132.95 L152.50,133.01 L153.00,132.92 L153.50,133.00 L154.00,133.01 L154.50,131.97 L155.00,132.08 L155.50,132.04 L156.00,132.04 L156.50,132.12 L157.00,132.69 L157.50,132.53 L158.00,132.52 L158.50,133.44 L159.00,133.44 L159.50,133.44 L160.00,133.44 L160.50,133.44 L161.00,133.44 L161.50,133.44 L162.00,133.44 L162.50,133.44 L163.00,133.44 L163.50,133.44 L164.00,132.62 L164.50,132.40 L165.00,133.44 L165.50,133.44 L166.00,133.44 L166.50,133.44 L167.00,133.44 L167.50,132.28 L168.00,132.20 L168.50,132.17 L169.00,132.28 L169.50,132.38 L170.00,132.23 L170.50,132.27 L171.00,132.21 L171.50,131.75 L172.00,131.81 L172.50,131.86 L173.00,131.97 L173.50,131.97 L174.00,132.16 L174.50,132.10 L175.00,132.30 L175.50,132.08 L176.00,132.08 L176.50,131.96 L177.00,131.91 L177.50,131.99 L178.00,132.56 L178.50,132.47 L179.00,132.44 L179.50,131.72 L180.00,131.55 L180.50,131.57 L181.00,131.61 L181.50,131.50 L182.00,131.51 L182.50,132.14 L183.00,132.14 L183.50,132.13 L184.00,132.20 L184.50,132.04 L185.00,132.18 L185.50,132.00 L186.00,131.90 L186.50,131.96 L187.00,131.92 L187.50,132.03 L188.00,131.84 L188.50,131.78 L189.00,131.78 L189.50,131.98 L190.00,132.51 L190.50,132.50 L191.00,132.43 L191.50,132.45 L192.00,132.55 L192.50,132.60 L193.00,132.63 L193.50,133.44 L194.00,133.44 L194.50,133.44 L195.00,133.44 L195.50,133.44 L196.00,133.44 L196.50,133.44 L197.00,133.44 L197.50,133.44 L198.00,133.44 L198.50,131.46 L199.00,131.43 L199.50,131.44 L200.00,131.51 L200.50,131.72 L201.00,133.44 L201.50,133.44 L202.00,133.44 L202.00,133.44 Z" fill="#0d2ee6"/>
<line x1="47.50" y1="133.44" x2="202.00" y2="133.44" stroke="#0d2ee6" stroke-width="0.55" />
<line x1="47.25" y1="143.16" x2="202.50" y2="143.16" stroke="#c8c8c8" stroke-width="0.5" />
<text x="49.30" y="137.44" font-size="3.0" text-anchor="start" font-weight="normal" font-style="normal" fill="#484848" >[0-176]</text>
<path d="M47.50,142.71 L47.50,142.71 L48.00,142.71 L48.50,142.71 L49.00,142.71 L49.50,142.71 L50.00,141.70 L50.50,141.65 L51.00,141.54 L51.50,141.58 L52.00,141.69 L52.50,142.14 L53.00,142.06 L53.50,142.14 L54.00,142.10 L54.50,142.71 L55.00,142.71 L55.50,142.71 L56.00,142.71 L56.50,142.09 L57.00,142.21 L57.50,142.16 L58.00,142.04 L58.50,142.20 L59.00,141.94 L59.50,141.87 L60.00,141.98 L60.50,141.53 L61.00,141.46 L61.50,141.44 L62.00,141.53 L62.50,141.39 L63.00,141.51 L63.50,142.71 L64.00,142.71 L64.50,141.60 L65.00,141.53 L65.50,141.54 L66.00,141.53 L66.50,141.50 L67.00,141.50 L67.50,141.47 L68.00,141.58 L68.50,141.48 L69.00,142.71 L69.50,142.71 L70.00,142.71 L70.50,142.71 L71.00,141.33 L71.50,140.98 L72.00,140.79 L72.50,139.67 L73.00,137.65 L73.50,136.38 L74.00,135.85 L74.50,134.41 L75.00,135.28 L75.50,136.14 L76.00,136.92 L76.50,137.98 L77.00,139.42 L77.50,140.07 L78.00,139.05 L78.50,139.26 L79.00,139.64 L79.50,140.18 L80.00,140.27 L80.50,140.54 L81.00,140.76 L81.50,140.69 L82.00,140.43 L82.50,140.41 L83.00,140.72 L83.50,140.53 L84.00,140.46 L84.50,141.64 L85.00,141.61 L85.50,141.62 L86.00,140.31 L86.50,140.01 L87.00,140.21 L87.50,140.02 L88.00,139.87 L88.50,139.69 L89.00,140.01 L89.50,139.93 L90.00,140.13 L90.50,140.10 L91.00,139.76 L91.50,139.94 L92.00,140.33 L92.50,142.71 L93.00,142.71 L93.50,142.71 L94.00,142.71 L94.50,142.71 L95.00,142.71 L95.50,141.73 L96.00,141.75 L96.50,141.75 L97.00,141.51 L97.50,141.35 L98.00,141.43 L98.50,141.45 L99.00,142.05 L99.50,141.92 L100.00,142.05 L100.50,141.90 L101.00,141.57 L101.50,141.46 L102.00,141.48 L102.50,141.55 L103.00,141.57 L103.50,142.71 L104.00,142.71 L104.50,142.71 L105.00,142.71 L105.50,142.71 L106.00,142.71 L106.50,142.01 L107.00,142.04 L107.50,142.05 L108.00,141.47 L108.50,141.50 L109.00,141.55 L109.50,141.47 L110.00,141.60 L110.50,142.12 L111.00,142.15 L111.50,140.94 L112.00,141.06 L112.50,141.06 L113.00,140.92 L113.50,140.95 L114.00,140.85 L114.50,141.43 L115.00,141.32 L115.50,141.27 L116.00,141.36 L116.50,141.29 L117.00,142.71 L117.50,142.71 L118.00,142.71 L118.50,142.71 L119.00,142.71 L119.50,141.75 L120.00,141.83 L120.50,141.77 L121.00,141.78 L121.50,141.83 L122.00,141.91 L122.50,142.26 L123.00,142.25 L123.50,142.21 L124.00,142.24 L124.50,142.28 L125.00,142.26 L125.50,142.23 L126.00,142.16 L126.50,142.16 L127.00,141.74 L127.50,141.79 L128.00,141.90 L128.50,141.75 L129.00,140.89 L129.50,141.04 L130.00,141.02 L130.50,141.00 L131.00,141.06 L131.50,140.96 L132.00,141.04 L132.50,141.07 L133.00,141.15 L133.50,141.12 L134.00,142.21 L134.50,142.17 L135.00,142.25 L135.50,142.24 L136.00,142.25 L136.50,142.22 L137.00,141.09 L137.50,141.10 L138.00,141.04 L138.50,140.97 L139.00,142.11 L139.50,142.11 L140.00,142.23 L140.50,142.10 L141.00,142.71 L141.50,142.71 L142.00,142.71 L142.50,142.71 L143.00,142.71 L143.50,142.71 L144.00,142.71 L144.50,141.45 L145.00,141.45 L145.50,141.48 L146.00,141.44 L146.50,141.39 L147.00,141.95 L147.50,142.09 L148.00,141.96 L148.50,140.92 L149.00,140.89 L149.50,141.00 L150.00,140.83 L150.50,140.94 L151.00,141.89 L151.50,141.81 L152.00,141.41 L152.50,141.33 L153.00,141.35 L153.50,142.06 L154.00,142.05 L154.50,142.21 L155.00,142.29 L155.50,142.26 L156.00,142.27 L156.50,142.23 L157.00,142.24 L157.50,141.32 L158.00,141.37 L158.50,141.34 L159.00,141.36 L159.50,141.28 L160.00,142.71 L160.50,142.71 L161.00,142.71 L161.50,142.71 L162.00,142.71 L162.50,141.86 L163.00,141.88 L163.50,141.87 L164.00,141.94 L164.50,142.14 L165.00,142.19 L165.50,142.28 L166.00,140.91 L166.50,140.62 L167.00,140.53 L167.50,140.27 L168.00,140.18 L168.50,140.96 L169.00,140.89 L169.50,140.64 L170.00,140.81 L170.50,140.91 L171.00,141.12 L171.50,140.24 L172.00,140.37 L172.50,140.65 L173.00,140.85 L173.50,141.55 L174.00,141.71 L174.50,142.71 L175.00,142.71 L175.50,142.71 L176.00,141.26 L176.50,141.30 L177.00,141.28 L177.50,141.42 L178.00,141.42 L178.50,141.29 L179.00,142.03 L179.50,142.11 L180.00,142.09 L180.50,142.71 L181.00,142.71 L181.50,141.58 L182.00,141.44 L182.50,141.45 L183.00,141.58 L183.50,141.55 L184.00,142.71 L184.50,142.71 L185.00,142.71 L185.50,142.71 L186.00,142.71 L186.50,142.71 L187.00,142.71 L187.50,142.71 L188.00,142.71 L188.50,141.94 L189.00,141.88 L189.50,142.06 L190.00,142.04 L190.50,142.00 L191.00,142.05 L191.50,141.92 L192.00,141.99 L192.50,142.09 L193.00,142.03 L193.50,141.29 L194.00,141.25 L194.50,141.34 L195.00,141.22 L195.50,141.55 L196.00,141.52 L196.50,141.55 L197.00,141.46 L197.50,141.63 L198.00,141.50 L198.50,141.48 L199.00,141.46 L199.50,141.61 L200.00,141.57 L200.50,141.14 L201.00,141.08 L201.50,141.16 L202.00,141.73 L202.00,142.71 Z" fill="#0d2ee6"/>
<line x1="47.50" y1="142.71" x2="202.00" y2="142.71" stroke="#0d2ee6" stroke-width="0.55" />
<line x1="47.25" y1="152.43" x2="202.50" y2="152.43" stroke="#c8c8c8" stroke-width="0.5" />
<text x="49.30" y="146.71" font-size="3.0" text-anchor="start" font-weight="normal" font-style="normal" fill="#484848" >[0-176]</text>
<path d="M54.00,151.98 L54.00,151.98 L54.50,151.98 L55.00,151.98 L55.50,151.98 L56.00,151.98 L56.50,151.98 L57.00,151.23 L57.50,151.15 L58.00,151.10 L58.50,151.14 L59.00,151.46 L59.50,151.33 L60.00,151.35 L60.50,151.37 L61.00,151.08 L61.50,151.15 L62.00,151.05 L62.50,151.98 L63.00,151.98 L63.50,151.98 L64.00,151.98 L64.50,151.98 L65.00,150.91 L65.50,150.92 L66.00,150.74 L66.50,150.59 L67.00,150.53 L67.50,150.58 L68.00,149.96 L68.50,149.99 L69.00,149.87 L69.50,149.92 L70.00,151.98 L70.50,151.98 L71.00,151.98 L71.50,149.44 L72.00,148.14 L72.50,145.26 L73.00,144.73 L73.50,144.32 L74.00,143.38 L74.50,143.18 L75.00,143.26 L75.50,144.30 L76.00,145.71 L76.50,147.11 L77.00,147.70 L77.50,148.61 L78.00,149.21 L78.50,149.11 L79.00,148.06 L79.50,148.70 L80.00,150.15 L80.50,150.18 L81.00,150.10 L81.50,150.10 L82.00,149.99 L82.50,149.98 L83.00,149.82 L83.50,149.78 L84.00,149.75 L84.50,149.76 L85.00,149.88 L85.50,150.68 L86.00,150.75 L86.50,150.42 L87.00,150.44 L87.50,150.37 L88.00,151.22 L88.50,151.30 L89.00,151.37 L89.50,151.41 L90.00,151.32 L90.50,151.38 L91.00,149.89 L91.50,149.77 L92.00,149.89 L92.50,149.85 L93.00,149.96 L93.50,149.93 L94.00,150.00 L94.50,150.12 L95.00,151.98 L95.50,151.98 L96.00,151.98 L96.50,150.56 L97.00,150.49 L97.50,150.56 L98.00,150.67 L98.50,150.45 L99.00,150.54 L99.50,150.85 L100.00,150.92 L100.50,150.89 L101.00,150.97 L101.50,149.85 L102.00,149.91 L102.50,149.79 L103.00,149.79 L103.50,149.72 L104.00,150.49 L104.50,150.62 L105.00,150.46 L105.50,150.58 L106.00,150.59 L106.50,151.98 L107.00,151.98 L107.50,151.98 L108.00,151.98 L108.50,149.35 L109.00,149.18 L109.50,149.21 L110.00,149.24 L110.50,151.98 L111.00,151.98 L111.50,151.98 L112.00,151.98 L112.50,149.76 L113.00,149.67 L113.50,149.83 L114.00,149.77 L114.50,150.19 L115.00,150.19 L115.50,150.14 L116.00,150.07 L116.50,150.09 L117.00,149.79 L117.50,149.62 L118.00,149.60 L118.50,149.63 L119.00,149.24 L119.50,149.17 L120.00,149.13 L120.50,149.07 L121.00,149.05 L121.50,151.07 L122.00,151.04 L122.50,151.15 L123.00,151.08 L123.50,151.03 L124.00,151.98 L124.50,151.98 L125.00,151.98 L125.50,151.98 L126.00,151.98 L126.50,151.98 L127.00,151.98 L127.50,151.98 L128.00,151.98 L128.50,150.65 L129.00,150.71 L129.50,150.74 L130.00,150.49 L130.50,150.50 L131.00,150.41 L131.50,150.45 L132.00,150.39 L132.50,150.28 L133.00,151.98 L133.50,151.98 L134.00,151.98 L134.50,151.56 L135.00,151.45 L135.50,151.45 L136.00,151.53 L136.50,151.98 L137.00,151.98 L137.50,151.98 L138.00,151.98 L138.50,151.05 L139.00,151.02 L139.50,151.06 L140.00,151.03 L140.50,150.87 L141.00,150.80 L141.50,151.98 L142.00,151.98 L142.50,151.98 L143.00,150.14 L143.50,150.02 L144.00,151.98 L144.50,151.98 L145.00,151.98 L145.50,151.30 L146.00,151.35 L146.50,151.38 L147.00,151.35 L147.50,150.97 L148.00,150.98 L148.50,151.04 L149.00,151.13 L149.50,151.24 L150.00,151.14 L150.50,151.09 L151.00,151.08 L151.50,151.98 L152.00,151.98 L152.50,150.17 L153.00,150.25 L153.50,150.23 L154.00,150.25 L154.50,150.24 L155.00,151.22 L155.50,151.15 L156.00,151.12 L156.50,149.98 L157.00,150.11 L157.50,149.99 L158.00,150.15 L158.50,151.43 L159.00,151.41 L159.50,151.39 L160.00,151.32 L160.50,151.42 L161.00,151.41 L161.50,150.93 L162.00,150.97 L162.50,150.94 L163.00,150.92 L163.50,150.15 L164.00,150.11 L164.50,150.01 L165.00,149.97 L165.50,150.77 L166.00,150.73 L166.50,150.77 L167.00,150.73 L167.50,150.71 L168.00,149.99 L168.50,149.96 L169.00,149.23 L169.50,149.45 L170.00,149.47 L170.50,149.20 L171.00,149.46 L171.50,149.71 L172.00,149.74 L172.50,150.02 L173.00,149.72 L173.50,149.72 L174.00,149.53 L174.50,150.32 L175.00,150.37 L175.50,150.27 L176.00,150.09 L176.50,150.34 L177.00,150.42 L177.50,150.59 L178.00,150.79 L178.50,150.91 L179.00,150.92 L179.50,151.01 L180.00,151.17 L180.50,151.07 L181.00,151.04 L181.50,150.96 L182.00,151.98 L182.50,151.98 L183.00,151.98 L183.50,151.98 L184.00,151.21 L184.50,151.23 L185.00,151.18 L185.50,151.18 L186.00,151.19 L186.50,151.05 L187.00,151.14 L187.50,151.03 L188.00,150.53 L188.50,150.44 L189.00,150.44 L189.50,151.37 L190.00,151.30 L190.50,151.28 L191.00,151.29 L191.50,151.30 L192.00,151.35 L192.50,150.48 L193.00,150.39 L193.50,150.34 L194.00,151.98 L194.50,151.98 L195.00,151.98 L195.50,151.98 L196.00,151.98 L196.50,151.98 L197.00,150.62 L197.50,150.62 L198.00,150.86 L198.50,150.88 L199.00,150.86 L199.50,150.86 L200.00,151.56 L200.50,151.51 L201.00,151.55 L201.50,151.98 L202.00,151.98 L202.00,151.98 Z" fill="#0d2ee6"/>
<line x1="54.00" y1="151.98" x2="202.00" y2="151.98" stroke="#0d2ee6" stroke-width="0.55" />
<line x1="47.25" y1="161.70" x2="202.50" y2="161.70" stroke="#c8c8c8" stroke-width="0.5" />
<text x="49.30" y="155.98" font-size="3.0" text-anchor="start" font-weight="normal" font-style="normal" fill="#484848" >[0-176]</text>
<path d="M55.00,161.25 L55.00,161.25 L55.50,160.84 L56.00,160.93 L56.50,160.84 L57.00,160.44 L57.50,160.41 L58.00,160.43 L58.50,160.33 L59.00,160.32 L59.50,160.38 L60.00,160.81 L60.50,160.86 L61.00,160.73 L61.50,161.25 L62.00,161.25 L62.50,161.25 L63.00,160.43 L63.50,160.30 L64.00,160.13 L64.50,160.08 L65.00,160.57 L65.50,160.63 L66.00,160.54 L66.50,160.60 L67.00,160.64 L67.50,161.25 L68.00,161.25 L68.50,161.25 L69.00,161.25 L69.50,160.55 L70.00,160.45 L70.50,160.43 L71.00,160.48 L71.50,159.16 L72.00,158.53 L72.50,158.28 L73.00,157.15 L73.50,155.87 L74.00,157.53 L74.50,158.47 L75.00,159.64 L75.50,160.16 L76.00,160.04 L76.50,160.09 L77.00,160.31 L77.50,159.85 L78.00,159.91 L78.50,160.45 L79.00,160.44 L79.50,160.43 L80.00,160.53 L80.50,160.46 L81.00,160.53 L81.50,160.57 L82.00,160.44 L82.50,160.15 L83.00,160.08 L83.50,160.07 L84.00,159.75 L84.50,159.85 L85.00,159.75 L85.50,159.68 L86.00,161.25 L86.50,161.25 L87.00,161.25 L87.50,160.02 L88.00,160.03 L88.50,160.06 L89.00,160.46 L89.50,160.39 L90.00,160.40 L90.50,160.54 L91.00,160.02 L91.50,160.05 L92.00,160.05 L92.50,160.07 L93.00,159.92 L93.50,160.56 L94.00,160.47 L94.50,160.44 L95.00,160.57 L95.50,160.55 L96.00,159.97 L96.50,159.97 L97.00,159.80 L97.50,160.18 L98.00,160.16 L98.50,160.32 L99.00,160.27 L99.50,159.63 L100.00,159.73 L100.50,159.61 L101.00,160.34 L101.50,160.33 L102.00,160.34 L102.50,160.45 L103.00,159.89 L103.50,160.00 L104.00,159.95 L104.50,160.02 L105.00,159.79 L105.50,159.79 L106.00,159.73 L106.50,160.16 L107.00,160.20 L107.50,160.27 L108.00,160.08 L108.50,160.06 L109.00,160.11 L109.50,160.10 L110.00,159.97 L110.50,160.00 L111.00,160.02 L111.50,160.14 L112.00,160.05 L112.50,159.99 L113.00,159.77 L113.50,159.89 L114.00,159.85 L114.50,159.80 L115.00,159.89 L115.50,161.25 L116.00,161.25 L116.50,161.25 L117.00,161.25 L117.50,161.25 L118.00,161.25 L118.50,161.25 L119.00,159.38 L119.50,159.40 L120.00,159.44 L120.50,159.58 L121.00,159.39 L121.50,159.35 L122.00,159.40 L122.50,159.21 L123.00,159.65 L123.50,159.64 L124.00,159.61 L124.50,159.50 L125.00,158.81 L125.50,159.06 L126.00,159.45 L126.50,159.56 L127.00,159.87 L127.50,160.41 L128.00,160.53 L128.50,160.66 L129.00,160.83 L129.50,160.50 L130.00,160.56 L130.50,160.55 L131.00,160.82 L131.50,160.83 L132.00,160.78 L132.50,160.65 L133.00,160.53 L133.50,160.52 L134.00,160.54 L134.50,160.66 L135.00,160.58 L135.50,160.63 L136.00,160.59 L136.50,160.47 L137.00,160.61 L137.50,160.51 L138.00,160.60 L138.50,160.62 L139.00,160.62 L139.50,160.62 L140.00,160.88 L140.50,160.79 L141.00,161.25 L141.50,160.71 L142.00,160.81 L142.50,160.82 L143.00,160.74 L143.50,160.79 L144.00,161.25 L144.50,161.25 L145.00,161.25 L145.50,160.60 L146.00,160.57 L146.50,160.69 L147.00,160.70 L147.50,160.60 L148.00,160.60 L148.50,160.74 L149.00,160.72 L149.50,160.75 L150.00,160.66 L150.50,161.25 L151.00,161.25 L151.50,161.25 L152.00,161.25 L152.50,161.25 L153.00,161.25 L153.50,161.25 L154.00,161.25 L154.50,160.54 L155.00,160.42 L155.50,160.49 L156.00,160.68 L156.50,160.72 L157.00,160.69 L157.50,160.66 L158.00,160.66 L158.50,161.25 L159.00,161.25 L159.50,161.25 L160.00,161.25 L160.50,161.25 L161.00,160.76 L161.50,160.76 L162.00,160.70 L162.50,160.40 L163.00,160.37 L163.50,160.46 L164.00,160.35 L164.50,160.28 L165.00,160.41 L165.50,160.11 L166.00,159.96 L166.50,159.77 L167.00,159.62 L167.50,159.60 L168.00,159.49 L168.50,159.57 L169.00,159.59 L169.50,159.68 L170.00,159.69 L170.50,159.67 L171.00,159.53 L171.50,159.78 L172.00,159.80 L172.50,159.81 L173.00,160.26 L173.50,160.43 L174.00,160.42 L174.50,160.46 L175.00,160.75 L175.50,160.31 L176.00,160.40 L176.50,160.38 L177.00,161.25 L177.50,161.25 L178.00,161.25 L178.50,161.25 L179.00,160.42 L179.50,160.37 L180.00,160.41 L180.50,160.37 L181.00,160.45 L181.50,160.48 L182.00,160.73 L182.50,160.70 L183.00,160.67 L183.50,160.70 L184.00,160.81 L184.50,160.40 L185.00,160.52 L185.50,160.59 L186.00,160.47 L186.50,160.72 L187.00,160.75 L187.50,160.58 L188.00,160.66 L188.50,160.65 L189.00,160.70 L189.50,160.76 L190.00,160.60 L190.50,160.78 L191.00,160.57 L191.50,160.49 L192.00,160.50 L192.50,160.61 L193.00,160.56 L193.50,160.95 L194.00,160.93 L194.50,161.25 L195.00,161.25 L195.50,160.85 L196.00,160.85 L196.50,160.84 L197.00,160.87 L197.50,160.77 L198.00,160.81 L198.50,160.74 L199.00,160.81 L199.50,160.89 L200.00,160.85 L200.50,160.83 L201.00,160.60 L201.50,160.67 L202.00,160.70 L202.00,161.25 Z" fill="#e6a536"/>
<line x1="55.00" y1="161.25" x2="202.00" y2="161.25" stroke="#e6a536" stroke-width="0.55" />
<line x1="47.25" y1="170.97" x2="202.50" y2="170.97" stroke="#c8c8c8" stroke-width="0.5" />
<text x="49.30" y="165.25" font-size="3.0" text-anchor="start" font-weight="normal" font-style="normal" fill="#484848" >[0-176]</text>
<path d="M58.00,170.52 L58.00,169.84 L58.50,170.02 L59.00,169.86 L59.50,169.95 L60.00,170.02 L60.50,169.97 L61.00,169.87 L61.50,170.06 L62.00,169.89 L62.50,170.52 L63.00,170.52 L63.50,170.19 L64.00,170.06 L64.50,170.16 L65.00,170.14 L65.50,170.09 L66.00,170.19 L66.50,170.17 L67.00,170.15 L67.50,170.12 L68.00,169.83 L68.50,169.79 L69.00,169.80 L69.50,169.82 L70.00,169.79 L70.50,170.52 L71.00,170.52 L71.50,170.52 L72.00,170.52 L72.50,170.52 L73.00,170.52 L73.50,167.95 L74.00,167.74 L74.50,167.71 L75.00,167.80 L75.50,168.07 L76.00,167.48 L76.50,167.66 L77.00,167.86 L77.50,168.26 L78.00,168.38 L78.50,168.67 L79.00,169.03 L79.50,168.90 L80.00,168.80 L80.50,170.52 L81.00,170.52 L81.50,170.52 L82.00,170.52 L82.50,170.52 L83.00,169.24 L83.50,169.15 L84.00,169.23 L84.50,169.23 L85.00,169.19 L85.50,169.02 L86.00,168.90 L86.50,168.99 L87.00,168.95 L87.50,168.94 L88.00,168.87 L88.50,170.52 L89.00,170.52 L89.50,170.52 L90.00,170.52 L90.50,170.52 L91.00,169.70 L91.50,169.75 L92.00,169.73 L92.50,168.89 L93.00,168.86 L93.50,169.01 L94.00,170.52 L94.50,170.52 L95.00,170.52 L95.50,169.59 L96.00,169.59 L96.50,169.49 L97.00,169.46 L97.50,169.49 L98.00,169.52 L98.50,169.50 L99.00,169.63 L99.50,169.50 L100.00,169.41 L100.50,169.39 L101.00,169.36 L101.50,169.41 L102.00,169.25 L102.50,169.35 L103.00,169.33 L103.50,169.33 L104.00,169.06 L104.50,169.05 L105.00,169.10 L105.50,169.04 L106.00,169.18 L106.50,169.08 L107.00,170.52 L107.50,170.52 L108.00,170.52 L108.50,170.52 L109.00,170.52 L109.50,169.43 L110.00,169.50 L110.50,169.40 L111.00,169.75 L111.50,169.79 L112.00,169.88 L112.50,169.77 L113.00,169.77 L113.50,169.90 L114.00,169.79 L114.50,169.02 L115.00,169.05 L115.50,169.08 L116.00,169.10 L116.50,169.01 L117.00,169.53 L117.50,169.58 L118.00,169.56 L118.50,169.55 L119.00,169.56 L119.50,169.58 L120.00,169.60 L120.50,169.45 L121.00,169.21 L121.50,169.18 L122.00,169.16 L122.50,169.16 L123.00,169.27 L123.50,169.18 L124.00,169.08 L124.50,168.93 L125.00,169.12 L125.50,169.00 L126.00,169.00 L126.50,169.32 L127.00,169.25 L127.50,169.38 L128.00,169.41 L128.50,169.52 L129.00,169.87 L129.50,169.83 L130.00,169.95 L130.50,169.92 L131.00,170.20 L131.50,170.13 L132.00,170.20 L132.50,170.11 L133.00,170.17 L133.50,170.52 L134.00,170.52 L134.50,170.52 L135.00,170.52 L135.50,170.52 L136.00,170.06 L136.50,169.97 L137.00,169.94 L137.50,170.03 L138.00,170.06 L138.50,169.96 L139.00,170.03 L139.50,170.07 L140.00,169.95 L140.50,169.98 L141.00,169.99 L141.50,170.09 L142.00,170.13 L142.50,170.12 L143.00,170.14 L143.50,169.97 L144.00,170.02 L144.50,170.04 L145.00,169.97 L145.50,170.14 L146.00,169.92 L146.50,170.07 L147.00,169.96 L147.50,169.92 L148.00,169.93 L148.50,169.99 L149.00,169.76 L149.50,169.80 L150.00,169.93 L150.50,169.76 L151.00,169.96 L151.50,170.08 L152.00,170.00 L152.50,170.01 L153.00,170.02 L153.50,170.04 L154.00,169.98 L154.50,169.92 L155.00,169.84 L155.50,169.84 L156.00,170.19 L156.50,170.15 L157.00,170.13 L157.50,170.04 L158.00,170.08 L158.50,170.16 L159.00,170.03 L159.50,170.20 L160.00,170.02 L160.50,170.11 L161.00,170.12 L161.50,170.08 L162.00,170.04 L162.50,169.76 L163.00,169.77 L163.50,169.87 L164.00,169.72 L164.50,169.87 L165.00,169.92 L165.50,169.91 L166.00,169.99 L166.50,169.89 L167.00,170.18 L167.50,170.05 L168.00,170.02 L168.50,169.85 L169.00,169.97 L169.50,169.94 L170.00,170.52 L170.50,170.52 L171.00,170.52 L171.50,170.52 L172.00,169.99 L172.50,170.00 L173.00,170.06 L173.50,170.10 L174.00,170.03 L174.50,170.13 L175.00,170.09 L175.50,169.91 L176.00,169.87 L176.50,169.81 L177.00,170.12 L177.50,170.22 L178.00,170.20 L178.50,169.70 L179.00,169.69 L179.50,169.74 L180.00,169.87 L180.50,169.82 L181.00,169.77 L181.50,169.86 L182.00,169.79 L182.50,170.14 L183.00,170.13 L183.50,170.18 L184.00,170.04 L184.50,170.14 L185.00,169.89 L185.50,169.83 L186.00,169.81 L186.50,169.89 L187.00,169.93 L187.50,169.98 L188.00,170.01 L188.50,170.10 L189.00,169.96 L189.50,170.06 L190.00,169.91 L190.50,169.96 L191.00,169.92 L191.50,170.02 L192.00,170.12 L192.50,170.14 L193.00,170.10 L193.50,170.01 L194.00,170.03 L194.50,170.08 L195.00,170.04 L195.50,170.14 L196.00,170.03 L196.50,170.15 L197.00,170.15 L197.50,170.18 L198.00,170.18 L198.50,170.11 L199.00,170.09 L199.50,170.14 L200.00,170.12 L200.50,170.52 L201.00,170.03 L201.50,170.08 L202.00,170.09 L202.00,170.52 Z" fill="#e6a536"/>
<line x1="58.00" y1="170.52" x2="202.00" y2="170.52" stroke="#e6a536" stroke-width="0.55" />
<line x1="47.25" y1="180.24" x2="202.50" y2="180.24" stroke="#c8c8c8" stroke-width="0.5" />
<text x="49.30" y="174.52" font-size="3.0" text-anchor="start" font-weight="normal" font-style="normal" fill="#484848" >[0-176]</text>
<path d="M60.00,179.79 L60.00,179.39 L60.50,179.79 L61.00,179.79 L61.50,179.38 L62.00,179.40 L62.50,179.45 L63.00,179.44 L63.50,179.44 L64.00,179.48 L64.50,179.44 L65.00,179.45 L65.50,179.40 L66.00,179.79 L66.50,179.79 L67.00,179.79 L67.50,179.33 L68.00,179.79 L68.50,179.42 L69.00,179.44 L69.50,179.48 L70.00,179.37 L70.50,179.47 L71.00,179.79 L71.50,179.49 L72.00,179.39 L72.50,179.08 L73.00,178.76 L73.50,179.01 L74.00,179.47 L74.50,179.38 L75.00,179.40 L75.50,179.36 L76.00,179.49 L76.50,179.79 L77.00,179.79 L77.50,179.37 L78.00,179.79 L78.50,179.79 L79.00,179.44 L79.50,179.79 L80.00,179.79 L80.50,179.79 L81.00,179.79 L81.50,179.79 L82.00,179.79 L82.50,179.79 L83.00,179.79 L83.50,179.79 L84.00,179.47 L84.50,179.23 L85.00,179.01 L85.50,178.90 L86.00,179.20 L86.50,179.39 L87.00,179.48 L87.50,179.79 L88.00,179.48 L88.50,179.40 L89.00,179.45 L89.50,179.47 L90.00,179.45 L90.50,179.79 L91.00,179.41 L91.50,179.79 L92.00,179.45 L92.50,179.46 L93.00,179.47 L93.50,179.49 L94.00,179.36 L94.50,179.45 L95.00,179.44 L95.50,179.79 L96.00,179.41 L96.50,179.40 L97.00,179.79 L97.50,179.79 L98.00,179.79 L98.50,179.79 L99.00,179.79 L99.50,179.79 L100.00,179.79 L100.50,179.79 L101.00,179.48 L101.50,179.39 L102.00,179.79 L102.50,179.43 L103.00,179.79 L103.50,179.79 L104.00,179.79 L104.50,179.79 L105.00,179.79 L105.50,179.79 L106.00,179.79 L106.50,179.79 L107.00,179.46 L107.50,179.37 L108.00,179.48 L108.50,179.79 L109.00,179.79 L109.50,179.48 L110.00,179.37 L110.50,179.38 L111.00,179.35 L111.50,179.43 L112.00,179.79 L112.50,179.79 L113.00,179.79 L113.50,179.79 L114.00,179.46 L114.50,179.36 L115.00,179.36 L115.50,179.48 L116.00,179.79 L116.50,179.47 L117.00,179.79 L117.50,179.79 L118.00,179.79 L118.50,179.79 L119.00,179.79 L119.50,179.79 L120.00,179.79 L120.50,179.42 L121.00,179.79 L121.50,179.79 L122.00,179.79 L122.50,179.79 L123.00,179.79 L123.50,179.79 L124.00,179.79 L124.50,179.79 L125.00,179.79 L125.50,179.79 L126.00,179.79 L126.50,179.79 L127.00,179.79 L127.50,179.79 L128.00,179.79 L128.50,179.44 L129.00,179.35 L129.50,179.79 L130.00,179.48 L130.50,179.79 L131.00,179.44 L131.50,179.45 L132.00,179.48 L132.50,179.43 L133.00,179.79 L133.50,179.79 L134.00,179.79 L134.50,179.48 L135.00,179.43 L135.50,179.79 L136.00,179.43 L136.50,179.79 L137.00,179.79 L137.50,179.79 L138.00,179.79 L138.50,179.79 L139.00,179.79 L139.50,179.79 L140.00,179.38 L140.50,179.46 L141.00,179.79 L141.50,179.38 L142.00,179.79 L142.50,179.79 L143.00,179.79 L143.50,179.79 L144.00,179.79 L144.50,179.79 L145.00,179.44 L145.50,179.47 L146.00,179.79 L146.50,179.79 L147.00,179.79 L147.50,179.79 L148.00,179.79 L148.50,179.79 L149.00,179.79 L149.50,179.79 L150.00,179.41 L150.50,179.79 L151.00,179.40 L151.50,179.79 L152.00,179.79 L152.50,179.79 L153.00,179.79 L153.50,179.79 L154.00,179.79 L154.50,179.79 L155.00,179.79 L155.50,179.79 L156.00,179.79 L156.50,179.79 L157.00,179.79 L157.50,179.79 L158.00,179.79 L158.50,179.79 L159.00,179.46 L159.50,179.79 L160.00,179.79 L160.50,179.79 L161.00,179.79 L161.50,179.46 L162.00,179.79 L162.50,179.79 L163.00,179.79 L163.50,179.79 L164.00,179.79 L164.50,179.48 L165.00,179.79 L165.50,179.79 L166.00,179.79 L166.50,179.79 L167.00,179.79 L167.50,179.79 L168.00,179.79 L168.50,179.45 L169.00,179.38 L169.50,179.79 L170.00,179.79 L170.50,179.79 L171.00,179.79 L171.50,179.79 L172.00,179.47 L172.50,179.45 L173.00,179.37 L173.50,179.79 L174.00,179.79 L174.50,179.79 L175.00,179.79 L175.50,179.37 L176.00,179.79 L176.50,179.44 L177.00,179.45 L177.50,179.43 L178.00,179.49 L178.50,179.40 L179.00,179.43 L179.50,179.36 L180.00,179.39 L180.50,179.79 L181.00,179.79 L181.50,179.79 L182.00,179.79 L182.50,179.79 L183.00,179.79 L183.50,179.79 L184.00,179.79 L184.50,179.79 L185.00,179.79 L185.50,179.79 L186.00,179.79 L186.50,179.79 L187.00,179.46 L187.50,179.79 L188.00,179.42 L188.50,179.44 L189.00,179.79 L189.50,179.48 L190.00,179.49 L190.50,179.79 L191.00,179.79 L191.50,179.79 L192.00,179.46 L192.50,179.79 L193.00,179.79 L193.50,179.79 L194.00,179.41 L194.50,179.79 L195.00,179.48 L195.50,179.79 L196.00,179.79 L196.50,179.79 L197.00,179.79 L197.50,179.79 L198.00,179.79 L198.50,179.43 L199.00,179.79 L199.50,179.45 L200.00,179.79 L200.50,179.79 L201.00,179.79 L201.50,179.44 L202.00,179.43 L202.00,179.79 Z" fill="#e6a536"/>
<line x1="60.00" y1="179.79" x2="202.00" y2="179.79" stroke="#b8b0c8" stroke-width="0.55" />
<line x1="47.25" y1="189.51" x2="202.50" y2="189.51" stroke="#c8c8c8" stroke-width="0.5" />
<text x="49.30" y="183.79" font-size="3.0" text-anchor="start" font-weight="normal" font-style="normal" fill="#484848" >[0-176]</text>
<path d="M62.00,189.06 L62.00,188.68 L62.50,188.64 L63.00,188.71 L63.50,188.68 L64.00,188.53 L64.50,188.35 L65.00,188.47 L65.50,188.34 L66.00,188.29 L66.50,188.33 L67.00,188.28 L67.50,188.40 L68.00,188.35 L68.50,188.30 L69.00,189.06 L69.50,189.06 L70.00,189.06 L70.50,189.06 L71.00,187.88 L71.50,187.77 L72.00,186.87 L72.50,185.84 L73.00,184.96 L73.50,183.09 L74.00,185.07 L74.50,185.83 L75.00,187.01 L75.50,187.40 L76.00,187.63 L76.50,187.58 L77.00,187.61 L77.50,187.69 L78.00,187.81 L78.50,189.06 L79.00,189.06 L79.50,189.06 L80.00,188.40 L80.50,188.30 L81.00,188.36 L81.50,188.40 L82.00,188.48 L82.50,188.30 L83.00,188.27 L83.50,188.15 L84.00,188.14 L84.50,188.23 L85.00,188.27 L85.50,188.01 L86.00,187.94 L86.50,187.93 L87.00,187.99 L87.50,187.90 L88.00,188.29 L88.50,188.33 L89.00,188.35 L89.50,188.24 L90.00,188.23 L90.50,188.47 L91.00,188.58 L91.50,188.60 L92.00,188.48 L92.50,188.60 L93.00,188.58 L93.50,188.34 L94.00,188.45 L94.50,188.41 L95.00,188.46 L95.50,188.28 L96.00,188.12 L96.50,188.08 L97.00,188.19 L97.50,188.11 L98.00,188.25 L98.50,188.26 L99.00,188.23 L99.50,188.32 L100.00,188.01 L100.50,187.99 L101.00,188.08 L101.50,188.01 L102.00,188.00 L102.50,187.98 L103.00,187.72 L103.50,187.88 L104.00,187.76 L104.50,187.70 L105.00,187.61 L105.50,187.69 L106.00,187.91 L106.50,187.78 L107.00,187.78 L107.50,187.85 L108.00,187.82 L108.50,187.83 L109.00,187.80 L109.50,187.67 L110.00,187.53 L110.50,187.50 L111.00,187.46 L111.50,187.34 L112.00,188.00 L112.50,188.08 L113.00,188.07 L113.50,187.91 L114.00,188.07 L114.50,187.81 L115.00,187.77 L115.50,187.85 L116.00,187.70 L116.50,187.72 L117.00,187.74 L117.50,189.06 L118.00,189.06 L118.50,189.06 L119.00,189.06 L119.50,189.06 L120.00,189.06 L120.50,187.62 L121.00,187.57 L121.50,187.63 L122.00,187.45 L122.50,187.45 L123.00,187.65 L123.50,187.47 L124.00,187.62 L124.50,189.06 L125.00,189.06 L125.50,189.06 L126.00,187.84 L126.50,187.86 L127.00,187.87 L127.50,187.93 L128.00,187.95 L128.50,188.13 L129.00,188.37 L129.50,188.52 L130.00,188.46 L130.50,188.51 L131.00,188.49 L131.50,188.27 L132.00,188.38 L132.50,188.42 L133.00,188.33 L133.50,189.06 L134.00,189.06 L134.50,189.06 L135.00,189.06 L135.50,189.06 L136.00,189.06 L136.50,188.15 L137.00,188.20 L137.50,187.97 L138.00,187.88 L138.50,188.37 L139.00,188.37 L139.50,188.25 L140.00,188.18 L140.50,188.46 L141.00,188.65 L141.50,188.59 L142.00,188.52 L142.50,188.66 L143.00,188.68 L143.50,188.72 L144.00,188.76 L144.50,188.44 L145.00,188.30 L145.50,188.38 L146.00,188.37 L146.50,188.38 L147.00,188.43 L147.50,188.37 L148.00,188.44 L148.50,188.53 L149.00,188.39 L149.50,188.49 L150.00,188.37 L150.50,188.22 L151.00,188.28 L151.50,188.16 L152.00,188.23 L152.50,188.33 L153.00,188.52 L153.50,188.41 L154.00,188.36 L154.50,189.06 L155.00,189.06 L155.50,188.66 L156.00,188.65 L156.50,188.72 L157.00,188.64 L157.50,188.22 L158.00,188.18 L158.50,188.43 L159.00,188.44 L159.50,188.53 L160.00,189.06 L160.50,189.06 L161.00,188.30 L161.50,188.22 L162.00,188.26 L162.50,188.34 L163.00,188.40 L163.50,188.27 L164.00,188.21 L164.50,188.35 L165.00,188.43 L165.50,188.28 L166.00,188.33 L166.50,188.30 L167.00,188.20 L167.50,187.57 L168.00,187.46 L168.50,187.38 L169.00,187.28 L169.50,187.29 L170.00,187.32 L170.50,187.99 L171.00,188.00 L171.50,188.10 L172.00,188.03 L172.50,188.50 L173.00,188.46 L173.50,188.58 L174.00,188.57 L174.50,188.13 L175.00,188.17 L175.50,188.30 L176.00,188.49 L176.50,188.51 L177.00,188.44 L177.50,188.45 L178.00,188.47 L178.50,188.43 L179.00,189.06 L179.50,189.06 L180.00,189.06 L180.50,189.06 L181.00,189.06 L181.50,189.06 L182.00,189.06 L182.50,189.06 L183.00,189.06 L183.50,189.06 L184.00,189.06 L184.50,188.21 L185.00,188.31 L185.50,188.30 L186.00,188.26 L186.50,188.29 L187.00,188.24 L187.50,188.33 L188.00,188.35 L188.50,188.33 L189.00,188.24 L189.50,188.40 L190.00,188.33 L190.50,188.36 L191.00,188.44 L191.50,188.41 L192.00,188.51 L192.50,188.61 L193.00,188.71 L193.50,188.59 L194.00,188.61 L194.50,188.58 L195.00,188.56 L195.50,188.56 L196.00,188.61 L196.50,189.06 L197.00,189.06 L197.50,189.06 L198.00,189.06 L198.50,188.59 L199.00,188.55 L199.50,188.62 L200.00,188.50 L200.50,188.55 L201.00,188.66 L201.50,188.58 L202.00,188.56 L202.00,189.06 Z" fill="#e6a536"/>
<line x1="62.00" y1="189.06" x2="202.00" y2="189.06" stroke="#e6a536" stroke-width="0.55" />
<line x1="47.25" y1="198.78" x2="202.50" y2="198.78" stroke="#c8c8c8" stroke-width="0.5" />
<text x="49.30" y="193.06" font-size="3.0" text-anchor="start" font-weight="normal" font-style="normal" fill="#484848" >[0-176]</text>
<path d="M65.00,198.33 L65.00,197.80 L65.50,197.77 L66.00,197.70 L66.50,197.82 L67.00,197.65 L67.50,197.77 L68.00,197.80 L68.50,197.73 L69.00,197.83 L69.50,197.86 L70.00,197.86 L70.50,197.77 L71.00,198.33 L71.50,198.33 L72.00,198.33 L72.50,194.98 L73.00,193.87 L73.50,193.67 L74.00,195.30 L74.50,198.33 L75.00,198.33 L75.50,198.33 L76.00,198.33 L76.50,198.33 L77.00,198.33 L77.50,197.86 L78.00,197.81 L78.50,197.89 L79.00,198.33 L79.50,197.95 L80.00,198.33 L80.50,197.89 L81.00,198.33 L81.50,197.92 L82.00,197.79 L82.50,197.95 L83.00,198.33 L83.50,198.33 L84.00,197.07 L84.50,197.04 L85.00,196.97 L85.50,198.33 L86.00,198.33 L86.50,198.33 L87.00,198.33 L87.50,198.33 L88.00,197.62 L88.50,197.58 L89.00,197.59 L89.50,197.58 L90.00,197.48 L90.50,197.58 L91.00,197.80 L91.50,197.88 L92.00,198.33 L92.50,198.33 L93.00,198.33 L93.50,198.33 L94.00,197.20 L94.50,197.21 L95.00,197.11 L95.50,197.21 L96.00,198.33 L96.50,198.33 L97.00,198.33 L97.50,198.33 L98.00,198.33 L98.50,198.33 L99.00,198.33 L99.50,198.33 L100.00,198.33 L100.50,197.25 L101.00,197.30 L101.50,198.33 L102.00,198.33 L102.50,197.53 L103.00,197.49 L103.50,197.43 L104.00,198.33 L104.50,198.33 L105.00,198.33 L105.50,198.33 L106.00,198.33 L106.50,197.82 L107.00,197.79 L107.50,198.33 L108.00,198.33 L108.50,198.33 L109.00,198.33 L109.50,197.19 L110.00,197.32 L110.50,197.28 L111.00,197.19 L111.50,198.33 L112.00,198.33 L112.50,198.33 L113.00,198.33 L113.50,198.33 L114.00,198.33 L114.50,197.42 L115.00,198.33 L115.50,198.33 L116.00,198.33 L116.50,197.99 L117.00,198.33 L117.50,198.33 L118.00,198.33 L118.50,197.66 L119.00,198.01 L119.50,197.87 L120.00,197.95 L120.50,198.33 L121.00,198.33 L121.50,198.33 L122.00,198.33 L122.50,198.33 L123.00,198.33 L123.50,198.33 L124.00,198.33 L124.50,197.44 L125.00,197.48 L125.50,197.79 L126.00,197.71 L126.50,196.79 L127.00,196.32 L127.50,197.45 L128.00,197.94 L128.50,197.70 L129.00,197.70 L129.50,198.33 L130.00,198.33 L130.50,197.38 L131.00,197.44 L131.50,197.57 L132.00,197.43 L132.50,197.71 L133.00,198.33 L133.50,198.33 L134.00,198.33 L134.50,198.33 L135.00,198.33 L135.50,198.33 L136.00,197.74 L136.50,197.84 L137.00,197.75 L137.50,197.80 L138.00,197.82 L138.50,197.81 L139.00,198.33 L139.50,198.33 L140.00,197.96 L140.50,197.88 L141.00,197.86 L141.50,197.92 L142.00,198.33 L142.50,198.33 L143.00,198.33 L143.50,198.33 L144.00,198.33 L144.50,198.33 L145.00,198.33 L145.50,198.33 L146.00,198.33 L146.50,198.33 L147.00,197.99 L147.50,198.33 L148.00,198.33 L148.50,198.33 L149.00,198.33 L149.50,198.33 L150.00,197.50 L150.50,197.61 L151.00,197.73 L151.50,197.69 L152.00,197.59 L152.50,197.74 L153.00,197.56 L153.50,197.42 L154.00,197.60 L154.50,197.45 L155.00,197.57 L155.50,197.56 L156.00,198.33 L156.50,198.33 L157.00,198.33 L157.50,198.33 L158.00,198.33 L158.50,198.00 L159.00,197.99 L159.50,198.33 L160.00,197.65 L160.50,197.55 L161.00,197.54 L161.50,197.73 L162.00,197.67 L162.50,197.57 L163.00,197.71 L163.50,198.33 L164.00,198.33 L164.50,198.33 L165.00,197.97 L165.50,197.99 L166.00,198.01 L166.50,198.33 L167.00,198.33 L167.50,198.01 L168.00,198.33 L168.50,198.33 L169.00,198.33 L169.50,198.33 L170.00,197.85 L170.50,197.60 L171.00,197.96 L171.50,197.91 L172.00,198.33 L172.50,198.33 L173.00,198.33 L173.50,198.33 L174.00,198.33 L174.50,198.33 L175.00,198.33 L175.50,198.33 L176.00,198.33 L176.50,198.33 L177.00,198.33 L177.50,198.33 L178.00,198.33 L178.50,198.33 L179.00,198.33 L179.50,198.33 L180.00,198.33 L180.50,198.33 L181.00,197.71 L181.50,197.65 L182.00,197.80 L182.50,198.33 L183.00,198.33 L183.50,198.33 L184.00,198.33 L184.50,198.33 L185.00,197.44 L185.50,197.54 L186.00,197.99 L186.50,197.88 L187.00,197.99 L187.50,198.33 L188.00,198.33 L188.50,198.33 L189.00,198.33 L189.50,198.33 L190.00,198.33 L190.50,198.01 L191.00,198.33 L191.50,198.33 L192.00,198.33 L192.50,198.33 L193.00,198.33 L193.50,198.33 L194.00,198.33 L194.50,198.33 L195.00,198.33 L195.50,198.33 L196.00,198.33 L196.50,198.33 L197.00,198.33 L197.50,198.33 L198.00,198.33 L198.50,198.33 L199.00,197.44 L199.50,198.33 L200.00,198.33 L200.50,198.33 L201.00,197.84 L201.50,198.01 L202.00,197.84 L202.00,198.33 Z" fill="#19e01e"/>
<line x1="65.00" y1="198.33" x2="202.00" y2="198.33" stroke="#19e01e" stroke-width="0.55" />
<line x1="47.25" y1="208.05" x2="202.50" y2="208.05" stroke="#c8c8c8" stroke-width="0.5" />
<text x="49.30" y="202.33" font-size="3.0" text-anchor="start" font-weight="normal" font-style="normal" fill="#484848" >[0-176]</text>
<path d="M65.00,207.60 L65.00,207.60 L65.50,207.15 L66.00,207.17 L66.50,207.60 L67.00,207.60 L67.50,207.60 L68.00,207.24 L68.50,207.60 L69.00,207.60 L69.50,207.60 L70.00,207.60 L70.50,207.60 L71.00,207.60 L71.50,207.60 L72.00,204.51 L72.50,202.89 L73.00,201.84 L73.50,201.85 L74.00,201.60 L74.50,203.18 L75.00,203.07 L75.50,204.32 L76.00,204.82 L76.50,207.60 L77.00,207.60 L77.50,207.60 L78.00,207.60 L78.50,207.60 L79.00,206.61 L79.50,206.83 L80.00,206.78 L80.50,206.88 L81.00,207.60 L81.50,206.74 L82.00,206.63 L82.50,206.03 L83.00,207.60 L83.50,205.67 L84.00,205.47 L84.50,207.60 L85.00,207.60 L85.50,207.60 L86.00,207.60 L86.50,207.60 L87.00,205.53 L87.50,205.51 L88.00,205.42 L88.50,207.60 L89.00,207.60 L89.50,207.60 L90.00,206.23 L90.50,207.00 L91.00,206.99 L91.50,207.03 L92.00,206.48 L92.50,206.43 L93.00,205.82 L93.50,205.86 L94.00,205.81 L94.50,205.89 L95.00,205.76 L95.50,205.80 L96.00,207.60 L96.50,207.60 L97.00,207.60 L97.50,207.60 L98.00,207.60 L98.50,207.60 L99.00,207.60 L99.50,207.60 L100.00,207.60 L100.50,207.60 L101.00,206.16 L101.50,206.26 L102.00,207.60 L102.50,207.60 L103.00,206.77 L103.50,206.83 L104.00,206.92 L104.50,206.73 L105.00,206.78 L105.50,206.71 L106.00,206.18 L106.50,206.27 L107.00,206.10 L107.50,206.20 L108.00,205.71 L108.50,206.26 L109.00,206.28 L109.50,207.60 L110.00,207.60 L110.50,207.60 L111.00,207.60 L111.50,206.25 L112.00,206.41 L112.50,206.38 L113.00,207.60 L113.50,207.60 L114.00,207.60 L114.50,207.60 L115.00,207.60 L115.50,207.60 L116.00,207.60 L116.50,207.60 L117.00,206.30 L117.50,206.40 L118.00,206.34 L118.50,206.49 L119.00,206.47 L119.50,206.47 L120.00,207.60 L120.50,207.60 L121.00,207.60 L121.50,207.60 L122.00,207.60 L122.50,207.60 L123.00,207.60 L123.50,207.60 L124.00,207.60 L124.50,207.13 L125.00,207.60 L125.50,207.60 L126.00,207.60 L126.50,207.60 L127.00,207.60 L127.50,207.60 L128.00,207.60 L128.50,207.60 L129.00,207.60 L129.50,207.60 L130.00,206.31 L130.50,206.39 L131.00,206.39 L131.50,207.07 L132.00,207.07 L132.50,206.90 L133.00,207.00 L133.50,207.60 L134.00,207.60 L134.50,207.60 L135.00,207.60 L135.50,207.60 L136.00,207.60 L136.50,207.60 L137.00,207.60 L137.50,207.60 L138.00,207.60 L138.50,207.60 L139.00,207.60 L139.50,206.30 L140.00,206.12 L140.50,206.27 L141.00,207.60 L141.50,207.60 L142.00,207.60 L142.50,207.60 L143.00,206.58 L143.50,206.64 L144.00,206.53 L144.50,206.62 L145.00,206.75 L145.50,206.70 L146.00,207.60 L146.50,207.60 L147.00,207.60 L147.50,207.60 L148.00,207.27 L148.50,207.60 L149.00,207.60 L149.50,207.60 L150.00,207.60 L150.50,207.60 L151.00,207.60 L151.50,207.60 L152.00,207.60 L152.50,207.60 L153.00,207.60 L153.50,207.60 L154.00,207.00 L154.50,206.91 L155.00,206.82 L155.50,206.78 L156.00,206.62 L156.50,206.44 L157.00,206.39 L157.50,206.37 L158.00,207.04 L158.50,207.05 L159.00,207.03 L159.50,207.60 L160.00,207.60 L160.50,207.60 L161.00,206.04 L161.50,206.90 L162.00,207.60 L162.50,207.60 L163.00,207.60 L163.50,207.60 L164.00,207.60 L164.50,207.60 L165.00,207.60 L165.50,207.60 L166.00,207.60 L166.50,207.60 L167.00,206.72 L167.50,206.85 L168.00,206.17 L168.50,206.38 L169.00,207.60 L169.50,207.60 L170.00,207.60 L170.50,207.15 L171.00,207.19 L171.50,207.02 L172.00,206.65 L172.50,207.60 L173.00,207.60 L173.50,207.60 L174.00,207.60 L174.50,207.60 L175.00,207.60 L175.50,207.60 L176.00,206.51 L176.50,206.43 L177.00,206.50 L177.50,206.53 L178.00,206.96 L178.50,206.91 L179.00,206.99 L179.50,207.60 L180.00,207.60 L180.50,207.60 L181.00,207.60 L181.50,207.60 L182.00,207.60 L182.50,207.60 L183.00,206.52 L183.50,206.48 L184.00,206.30 L184.50,206.34 L185.00,206.47 L185.50,207.60 L186.00,207.60 L186.50,207.01 L187.00,206.83 L187.50,207.60 L188.00,207.60 L188.50,207.60 L189.00,207.60 L189.50,207.60 L190.00,207.60 L190.50,207.60 L191.00,206.73 L191.50,206.79 L192.00,206.94 L192.50,206.61 L193.00,206.63 L193.50,206.54 L194.00,206.55 L194.50,207.60 L195.00,207.60 L195.50,207.60 L196.00,207.60 L196.50,207.60 L197.00,207.60 L197.50,207.60 L198.00,206.94 L198.50,206.93 L199.00,206.93 L199.50,207.18 L200.00,207.16 L200.50,207.60 L201.00,207.60 L201.50,207.60 L202.00,207.60 L202.00,207.60 Z" fill="#19e01e"/>
<line x1="65.00" y1="207.60" x2="202.00" y2="207.60" stroke="#19e01e" stroke-width="0.55" />
<line x1="47.25" y1="217.32" x2="202.50" y2="217.32" stroke="#c8c8c8" stroke-width="0.5" />
<text x="49.30" y="211.60" font-size="3.0" text-anchor="start" font-weight="normal" font-style="normal" fill="#484848" >[0-176]</text>
<path d="M65.00,216.87 L65.00,216.09 L65.50,216.12 L66.00,216.36 L66.50,216.35 L67.00,216.46 L67.50,216.35 L68.00,216.87 L68.50,216.87 L69.00,216.87 L69.50,216.87 L70.00,216.87 L70.50,216.87 L71.00,215.71 L71.50,215.70 L72.00,213.30 L72.50,210.96 L73.00,209.62 L73.50,210.55 L74.00,211.62 L74.50,212.03 L75.00,212.50 L75.50,213.56 L76.00,214.06 L76.50,216.87 L77.00,216.87 L77.50,216.87 L78.00,216.87 L78.50,216.87 L79.00,216.87 L79.50,216.87 L80.00,216.87 L80.50,216.87 L81.00,216.87 L81.50,216.87 L82.00,215.56 L82.50,215.51 L83.00,215.54 L83.50,216.87 L84.00,216.87 L84.50,215.93 L85.00,215.82 L85.50,215.82 L86.00,216.87 L86.50,216.87 L87.00,216.39 L87.50,216.38 L88.00,216.45 L88.50,215.61 L89.00,215.49 L89.50,215.55 L90.00,215.43 L90.50,215.26 L91.00,215.14 L91.50,214.86 L92.00,216.21 L92.50,216.14 L93.00,214.67 L93.50,214.53 L94.00,215.05 L94.50,215.01 L95.00,214.73 L95.50,214.68 L96.00,214.69 L96.50,216.06 L97.00,216.87 L97.50,216.87 L98.00,216.87 L98.50,214.99 L99.00,215.25 L99.50,215.50 L100.00,215.77 L100.50,216.87 L101.00,216.87 L101.50,216.87 L102.00,216.47 L102.50,216.37 L103.00,216.87 L103.50,216.87 L104.00,215.77 L104.50,215.82 L105.00,215.73 L105.50,216.87 L106.00,216.87 L106.50,216.87 L107.00,216.87 L107.50,215.41 L108.00,215.39 L108.50,215.39 L109.00,216.38 L109.50,216.32 L110.00,216.01 L110.50,215.92 L111.00,216.01 L111.50,216.04 L112.00,216.87 L112.50,216.87 L113.00,216.87 L113.50,216.87 L114.00,216.31 L114.50,216.38 L115.00,216.41 L115.50,215.66 L116.00,215.74 L116.50,215.61 L117.00,215.67 L117.50,215.74 L118.00,216.87 L118.50,216.29 L119.00,216.25 L119.50,216.36 L120.00,216.87 L120.50,216.87 L121.00,216.36 L121.50,216.36 L122.00,215.81 L122.50,215.68 L123.00,215.98 L123.50,215.99 L124.00,216.12 L124.50,216.06 L125.00,216.01 L125.50,216.14 L126.00,216.87 L126.50,216.87 L127.00,216.87 L127.50,216.87 L128.00,216.87 L128.50,216.87 L129.00,216.87 L129.50,216.87 L130.00,216.87 L130.50,216.87 L131.00,216.87 L131.50,216.87 L132.00,216.87 L132.50,216.28 L133.00,216.32 L133.50,216.29 L134.00,215.66 L134.50,215.69 L135.00,215.55 L135.50,215.56 L136.00,215.71 L136.50,216.22 L137.00,216.21 L137.50,216.27 L138.00,216.23 L138.50,216.87 L139.00,216.87 L139.50,216.87 L140.00,216.87 L140.50,216.87 L141.00,216.87 L141.50,216.87 L142.00,216.30 L142.50,215.98 L143.00,216.01 L143.50,216.52 L144.00,216.47 L144.50,216.30 L145.00,216.49 L145.50,216.46 L146.00,216.52 L146.50,216.22 L147.00,216.18 L147.50,216.23 L148.00,216.08 L148.50,216.87 L149.00,216.87 L149.50,216.87 L150.00,216.87 L150.50,216.87 L151.00,216.87 L151.50,216.87 L152.00,216.87 L152.50,216.87 L153.00,216.87 L153.50,216.87 L154.00,216.87 L154.50,216.87 L155.00,216.87 L155.50,216.87 L156.00,216.87 L156.50,216.87 L157.00,216.87 L157.50,216.87 L158.00,216.87 L158.50,216.87 L159.00,216.87 L159.50,216.87 L160.00,216.87 L160.50,216.87 L161.00,216.87 L161.50,216.87 L162.00,216.87 L162.50,216.87 L163.00,216.87 L163.50,216.87 L164.00,216.87 L164.50,216.27 L165.00,216.36 L165.50,216.33 L166.00,216.21 L166.50,216.87 L167.00,216.87 L167.50,216.87 L168.00,216.87 L168.50,216.87 L169.00,216.87 L169.50,216.87 L170.00,216.87 L170.50,215.29 L171.00,215.40 L171.50,215.52 L172.00,216.87 L172.50,216.87 L173.00,216.87 L173.50,216.87 L174.00,216.23 L174.50,216.27 L175.00,216.40 L175.50,215.83 L176.00,215.65 L176.50,215.69 L177.00,216.87 L177.50,216.87 L178.00,216.87 L178.50,216.87 L179.00,216.27 L179.50,216.27 L180.00,216.16 L180.50,216.87 L181.00,216.87 L181.50,216.87 L182.00,216.87 L182.50,215.87 L183.00,215.78 L183.50,215.41 L184.00,215.28 L184.50,215.25 L185.00,216.45 L185.50,216.35 L186.00,216.34 L186.50,216.32 L187.00,216.07 L187.50,216.10 L188.00,216.16 L188.50,216.87 L189.00,215.65 L189.50,215.60 L190.00,215.47 L190.50,216.87 L191.00,216.87 L191.50,216.87 L192.00,215.18 L192.50,215.07 L193.00,216.87 L193.50,216.87 L194.00,216.87 L194.50,215.63 L195.00,215.77 L195.50,215.85 L196.00,216.87 L196.50,216.87 L197.00,216.87 L197.50,216.87 L198.00,216.87 L198.50,216.87 L199.00,216.87 L199.50,216.87 L200.00,216.87 L200.50,216.87 L201.00,216.21 L201.50,216.28 L202.00,215.92 L202.00,216.87 Z" fill="#19e01e"/>
<line x1="65.00" y1="216.87" x2="202.00" y2="216.87" stroke="#19e01e" stroke-width="0.55" />
<line x1="47.25" y1="226.59" x2="202.50" y2="226.59" stroke="#c8c8c8" stroke-width="0.5" />
<text x="49.30" y="220.87" font-size="3.0" text-anchor="start" font-weight="normal" font-style="normal" fill="#484848" >[0-176]</text>
<path d="M65.00,226.14 L65.00,225.71 L65.50,225.75 L66.00,226.14 L66.50,226.14 L67.00,226.14 L67.50,226.14 L68.00,226.14 L68.50,225.52 L69.00,225.53 L69.50,225.61 L70.00,225.59 L70.50,226.14 L71.00,225.82 L71.50,226.14 L72.00,225.73 L72.50,224.60 L73.00,223.57 L73.50,223.57 L74.00,224.53 L74.50,224.85 L75.00,225.38 L75.50,225.48 L76.00,225.72 L76.50,226.14 L77.00,226.14 L77.50,226.14 L78.00,226.14 L78.50,226.14 L79.00,226.14 L79.50,225.68 L80.00,225.61 L80.50,225.53 L81.00,226.14 L81.50,226.14 L82.00,226.14 L82.50,225.77 L83.00,225.70 L83.50,226.14 L84.00,226.14 L84.50,226.14 L85.00,226.14 L85.50,226.14 L86.00,226.14 L86.50,226.14 L87.00,226.14 L87.50,226.14 L88.00,225.50 L88.50,225.35 L89.00,225.35 L89.50,225.46 L90.00,225.39 L90.50,225.50 L91.00,226.14 L91.50,226.14 L92.00,226.14 L92.50,226.14 L93.00,226.14 L93.50,226.14 L94.00,225.52 L94.50,225.69 L95.00,226.14 L95.50,225.79 L96.00,225.63 L96.50,225.68 L97.00,225.77 L97.50,226.14 L98.00,226.14 L98.50,226.14 L99.00,226.14 L99.50,226.14 L100.00,226.14 L100.50,226.14 L101.00,226.14 L101.50,226.14 L102.00,226.14 L102.50,225.67 L103.00,225.59 L103.50,226.14 L104.00,226.14 L104.50,226.14 L105.00,226.14 L105.50,226.14 L106.00,226.14 L106.50,226.14 L107.00,226.14 L107.50,226.14 L108.00,226.14 L108.50,226.14 L109.00,226.14 L109.50,226.14 L110.00,226.14 L110.50,226.14 L111.00,226.14 L111.50,226.14 L112.00,226.14 L112.50,226.14 L113.00,226.14 L113.50,225.72 L114.00,225.84 L114.50,225.75 L115.00,225.58 L115.50,225.47 L116.00,225.54 L116.50,226.14 L117.00,226.14 L117.50,226.14 L118.00,225.43 L118.50,225.54 L119.00,225.61 L119.50,225.52 L120.00,225.55 L120.50,225.38 L121.00,225.52 L121.50,225.38 L122.00,225.54 L122.50,225.54 L123.00,225.60 L123.50,225.62 L124.00,226.14 L124.50,226.14 L125.00,226.14 L125.50,226.14 L126.00,226.14 L126.50,226.14 L127.00,225.55 L127.50,225.55 L128.00,226.14 L128.50,226.14 L129.00,226.14 L129.50,226.14 L130.00,226.14 L130.50,225.55 L131.00,225.63 L131.50,225.63 L132.00,226.14 L132.50,226.14 L133.00,225.40 L133.50,225.46 L134.00,225.44 L134.50,225.48 L135.00,225.45 L135.50,225.53 L136.00,225.44 L136.50,225.61 L137.00,226.14 L137.50,226.14 L138.00,226.14 L138.50,225.62 L139.00,225.49 L139.50,225.58 L140.00,226.14 L140.50,226.14 L141.00,226.14 L141.50,226.14 L142.00,226.14 L142.50,226.14 L143.00,226.14 L143.50,226.14 L144.00,226.14 L144.50,226.14 L145.00,226.14 L145.50,225.70 L146.00,225.74 L146.50,225.80 L147.00,226.14 L147.50,226.14 L148.00,226.14 L148.50,226.14 L149.00,226.14 L149.50,226.14 L150.00,226.14 L150.50,225.78 L151.00,225.79 L151.50,225.80 L152.00,226.14 L152.50,226.14 L153.00,226.14 L153.50,225.46 L154.00,225.51 L154.50,225.39 L155.00,226.14 L155.50,226.14 L156.00,226.14 L156.50,226.14 L157.00,226.14 L157.50,225.80 L158.00,225.81 L158.50,226.14 L159.00,226.14 L159.50,226.14 L160.00,226.14 L160.50,226.14 L161.00,225.46 L161.50,225.57 L162.00,225.45 L162.50,225.45 L163.00,225.77 L163.50,226.14 L164.00,226.14 L164.50,226.14 L165.00,226.14 L165.50,226.14 L166.00,226.14 L166.50,226.14 L167.00,226.14 L167.50,225.82 L168.00,226.14 L168.50,226.14 L169.00,226.14 L169.50,226.14 L170.00,225.73 L170.50,225.73 L171.00,225.76 L171.50,225.57 L172.00,225.60 L172.50,225.62 L173.00,226.14 L173.50,226.14 L174.00,226.14 L174.50,226.14 L175.00,226.14 L175.50,226.14 L176.00,226.14 L176.50,226.14 L177.00,226.14 L177.50,226.14 L178.00,225.77 L178.50,225.82 L179.00,225.66 L179.50,225.78 L180.00,225.71 L180.50,226.14 L181.00,226.14 L181.50,226.14 L182.00,225.53 L182.50,225.52 L183.00,225.69 L183.50,226.14 L184.00,226.14 L184.50,226.14 L185.00,225.59 L185.50,225.57 L186.00,225.59 L186.50,226.14 L187.00,226.14 L187.50,226.14 L188.00,226.14 L188.50,226.14 L189.00,226.14 L189.50,225.48 L190.00,226.14 L190.50,226.14 L191.00,226.14 L191.50,226.14 L192.00,226.14 L192.50,226.14 L193.00,225.52 L193.50,225.55 L194.00,225.79 L194.50,225.84 L195.00,225.81 L195.50,226.14 L196.00,225.46 L196.50,225.54 L197.00,225.47 L197.50,225.60 L198.00,225.55 L198.50,225.56 L199.00,225.53 L199.50,226.14 L200.00,226.14 L200.50,226.14 L201.00,225.55 L201.50,225.52 L202.00,225.67 L202.00,226.14 Z" fill="#19e01e"/>
<line x1="65.00" y1="226.14" x2="202.00" y2="226.14" stroke="#19e01e" stroke-width="0.55" />
<line x1="47.25" y1="227.80" x2="202.50" y2="227.80" stroke="#999" stroke-width="1.2" />
<rect x="47.60" y="228.40" width="154.55" height="21.40" fill="#f6f6f6" />
<line x1="74.00" y1="231.70" x2="104.00" y2="231.70" stroke="#5a5ac8" stroke-width="0.55" />
<circle cx="74.1" cy="231.7" r="1.05" fill="#1212a6"/>
<path d="M78.5,231.1 L79.3,231.7 L78.5,232.29999999999998" stroke="#6a6ab0" stroke-width="0.45" fill="none"/>
<path d="M83.2,231.1 L84.0,231.7 L83.2,232.29999999999998" stroke="#6a6ab0" stroke-width="0.45" fill="none"/>
<path d="M88.2,231.1 L89.0,231.7 L88.2,232.29999999999998" stroke="#6a6ab0" stroke-width="0.45" fill="none"/>
<path d="M93.3,231.1 L94.1,231.7 L93.3,232.29999999999998" stroke="#6a6ab0" stroke-width="0.45" fill="none"/>
<path d="M98.0,231.1 L98.8,231.7 L98.0,232.29999999999998" stroke="#6a6ab0" stroke-width="0.45" fill="none"/>
<rect x="103.40" y="229.50" width="19.30" height="4.40" fill="#1212a6" rx="1.6"/>
<rect x="120.00" y="230.40" width="16.00" height="2.60" fill="#1212a6" />
<text x="103.00" y="236.90" font-size="2.9" text-anchor="middle" font-weight="normal" font-style="normal" fill="#444" >CCR4</text>
<line x1="74.00" y1="242.50" x2="104.00" y2="242.50" stroke="#5a5ac8" stroke-width="0.55" />
<rect x="74.20" y="241.60" width="1.60" height="1.80" fill="#222266" />
<path d="M78.5,241.9 L79.3,242.5 L78.5,243.1" stroke="#6a6ab0" stroke-width="0.45" fill="none"/>
<path d="M83.2,241.9 L84.0,242.5 L83.2,243.1" stroke="#6a6ab0" stroke-width="0.45" fill="none"/>
<path d="M88.2,241.9 L89.0,242.5 L88.2,243.1" stroke="#6a6ab0" stroke-width="0.45" fill="none"/>
<path d="M93.3,241.9 L94.1,242.5 L93.3,243.1" stroke="#6a6ab0" stroke-width="0.45" fill="none"/>
<path d="M98.0,241.9 L98.8,242.5 L98.0,243.1" stroke="#6a6ab0" stroke-width="0.45" fill="none"/>
<rect x="103.40" y="240.30" width="19.30" height="4.40" fill="#1212a6" rx="1.6"/>
<rect x="120.00" y="241.20" width="34.00" height="2.60" fill="#1212a6" />
<text x="111.40" y="247.70" font-size="2.9" text-anchor="middle" font-weight="normal" font-style="normal" fill="#444" >CCR4</text>
<line x1="75.50" y1="253.50" x2="75.50" y2="263.80" stroke="#000" stroke-width="2.2" />
<path d="M73.2,254.3 L75.5,251.2 L77.8,254.3 Z" fill="#000"/>
<defs><linearGradient id="gb" x1="0" y1="0" x2="0" y2="1"><stop offset="0" stop-color="#2a4a78"/><stop offset="0.6" stop-color="#4a78b0"/><stop offset="1" stop-color="#a8cdf0"/></linearGradient></defs>
<path d="M45.2,117.3 L41,117.3 L41,152.5 L45.2,152.5" stroke="url(#gb)" stroke-width="0.9" fill="none"/>
<line x1="37.20" y1="135.00" x2="41.00" y2="135.00" stroke="#3a5a88" stroke-width="0.8" />
<path d="M45.2,152.8 L41.2,152.8 L41.2,189.3" stroke="#f0a040" stroke-width="1.0" fill="none"/>
<line x1="36.80" y1="171.00" x2="41.20" y2="171.00" stroke="#f0a040" stroke-width="0.8" />
<path d="M41.2,189.5 L41.2,223.3 L45.5,223.3" stroke="#4cc070" stroke-width="1.0" fill="none"/>
<path d="M41.2,189.5 L45.2,189.5" stroke="#b9c07a" stroke-width="0.9" fill="none"/>
<line x1="36.80" y1="206.70" x2="41.20" y2="206.70" stroke="#4cc070" stroke-width="0.8" />
<text class="t" x="0" y="0" font-size="7.90" text-anchor="middle" fill="#231f20" transform="translate(33.40,135.05) rotate(-90)" textLength="28.3" lengthAdjust="spacingAndGlyphs" >NA-ATLL</text>
<text class="t" x="0" y="0" font-size="7.90" text-anchor="middle" fill="#231f20" transform="translate(33.40,171.25) rotate(-90)" textLength="20.6" lengthAdjust="spacingAndGlyphs" >J-ATLL</text>
<text class="t" x="0" y="0" font-size="8.10" text-anchor="middle" fill="#231f20" transform="translate(33.20,206.85) rotate(-90)" textLength="13.8" lengthAdjust="spacingAndGlyphs" >Treg</text>
<rect x="42.60" y="309.30" width="165.40" height="1.80" fill="#d6d6d6" />
<rect x="42.60" y="311.40" width="1.40" height="3.00" fill="#666" />
<rect x="44.00" y="311.40" width="1.80" height="3.00" fill="#f2f2f2" />
<rect x="45.80" y="311.40" width="1.40" height="3.00" fill="#111" />
<rect x="47.20" y="311.40" width="4.30" height="3.00" fill="#f2f2f2" />
<rect x="51.50" y="311.40" width="2.50" height="3.00" fill="#111" />
<rect x="54.00" y="311.40" width="1.00" height="3.00" fill="#444" />
<rect x="55.00" y="311.40" width="2.30" height="3.00" fill="#111" />
<rect x="57.30" y="311.40" width="4.00" height="3.00" fill="#f2f2f2" />
<rect x="61.30" y="311.40" width="4.70" height="3.00" fill="#111" />
<rect x="66.00" y="311.40" width="4.60" height="3.00" fill="#777" />
<rect x="70.60" y="311.40" width="2.80" height="3.00" fill="#f2f2f2" />
<rect x="73.40" y="311.40" width="4.60" height="3.00" fill="#111" />
<rect x="78.00" y="311.40" width="6.40" height="3.00" fill="#f2f2f2" />
<rect x="84.40" y="311.40" width="1.20" height="3.00" fill="#999" />
<rect x="85.60" y="311.40" width="2.80" height="3.00" fill="#f2f2f2" />
<rect x="88.40" y="311.40" width="3.50" height="3.00" fill="#222" />
<rect x="91.90" y="311.40" width="4.60" height="3.00" fill="#f2f2f2" />
<rect x="96.50" y="311.40" width="3.50" height="3.00" fill="#333" />
<rect x="100.00" y="311.40" width="2.90" height="3.00" fill="#999" />
<rect x="102.90" y="311.40" width="3.30" height="3.00" fill="#555" />
<rect x="106.20" y="311.40" width="4.80" height="3.00" fill="#111" />
<rect x="111.00" y="311.40" width="4.20" height="3.00" fill="#f2f2f2" />
<rect x="115.20" y="311.40" width="3.20" height="3.00" fill="#111" />
<rect x="118.40" y="311.40" width="4.60" height="3.00" fill="#f4f4f4" />
<rect x="123.00" y="311.40" width="2.50" height="3.00" fill="#4a2020" />
<rect x="125.50" y="311.40" width="4.20" height="3.00" fill="#111" />
<rect x="129.70" y="311.40" width="2.50" height="3.00" fill="#f2f2f2" />
<rect x="132.20" y="311.40" width="2.50" height="3.00" fill="#111" />
<rect x="134.70" y="311.40" width="3.30" height="3.00" fill="#f2f2f2" />
<rect x="138.00" y="311.40" width="3.40" height="3.00" fill="#111" />
<rect x="141.40" y="311.40" width="3.30" height="3.00" fill="#999" />
<rect x="144.70" y="311.40" width="4.20" height="3.00" fill="#111" />
<rect x="148.90" y="311.40" width="2.50" height="3.00" fill="#f2f2f2" />
<rect x="151.40" y="311.40" width="2.60" height="3.00" fill="#111" />
<rect x="154.00" y="311.40" width="5.00" height="3.00" fill="#999" />
<rect x="159.00" y="311.40" width="5.80" height="3.00" fill="#eee" />
<rect x="164.80" y="311.40" width="4.20" height="3.00" fill="#999" />
<rect x="169.00" y="311.40" width="5.80" height="3.00" fill="#111" />
<rect x="174.80" y="311.40" width="5.10" height="3.00" fill="#f2f2f2" />
<rect x="179.90" y="311.40" width="2.50" height="3.00" fill="#111" />
<rect x="182.40" y="311.40" width="2.50" height="3.00" fill="#999" />
<rect x="184.90" y="311.40" width="4.10" height="3.00" fill="#f2f2f2" />
<rect x="189.00" y="311.40" width="7.60" height="3.00" fill="#111" />
<rect x="196.60" y="311.40" width="3.30" height="3.00" fill="#f2f2f2" />
<rect x="199.90" y="311.40" width="3.40" height="3.00" fill="#111" />
<rect x="203.30" y="311.40" width="3.30" height="3.00" fill="#f2f2f2" />
<rect x="206.60" y="311.40" width="1.40" height="3.00" fill="#111" />
<path d="M118.5,311.4 L121.5,312.9 L118.5,314.4 Z M124,311.4 L121.3,312.9 L124,314.4 Z" fill="#c02020"/>
<line x1="67.80" y1="311.00" x2="67.80" y2="315.00" stroke="#d02020" stroke-width="0.6" />
<line x1="42.60" y1="315.90" x2="208.00" y2="315.90" stroke="#888" stroke-width="0.6" />
<line x1="42.60" y1="317.20" x2="208.00" y2="317.20" stroke="#b0b0b0" stroke-width="0.6" stroke-dasharray="0.6 0.6"/>
<line x1="42.60" y1="318.40" x2="208.00" y2="318.40" stroke="#999" stroke-width="0.5" />
<text x="43.30" y="321.30" font-size="2.8" text-anchor="start" font-weight="normal" font-style="normal" fill="#333" >Scale</text>
<text x="43.30" y="324.80" font-size="2.8" text-anchor="start" font-weight="normal" font-style="normal" fill="#333" >chr3:</text>
<text x="111.50" y="321.30" font-size="2.8" text-anchor="middle" font-weight="normal" font-style="normal" fill="#333" >2 kb</text>
<line x1="104.00" y1="320.40" x2="108.50" y2="320.40" stroke="#333" stroke-width="0.4" />
<line x1="114.50" y1="320.40" x2="119.00" y2="320.40" stroke="#333" stroke-width="0.4" />
<text x="62.00" y="324.80" font-size="2.85" text-anchor="start" font-weight="normal" font-style="normal" fill="#444" textLength="143" lengthAdjust="spacingAndGlyphs">| 32,993,000 | 32,994,000 | 32,995,000 | 32,996,000 | 32,997,000 | 32,998,000 | 32,999,000 |</text>
<line x1="46.00" y1="326.00" x2="46.00" y2="362.00" stroke="#f6e6ef" stroke-width="0.4" />
<line x1="52.50" y1="326.00" x2="52.50" y2="362.00" stroke="#f6e6ef" stroke-width="0.4" />
<line x1="59.00" y1="326.00" x2="59.00" y2="362.00" stroke="#f6e6ef" stroke-width="0.4" />
<line x1="65.50" y1="326.00" x2="65.50" y2="362.00" stroke="#f6e6ef" stroke-width="0.4" />
<line x1="72.00" y1="326.00" x2="72.00" y2="362.00" stroke="#f6e6ef" stroke-width="0.4" />
<line x1="78.50" y1="326.00" x2="78.50" y2="362.00" stroke="#f6e6ef" stroke-width="0.4" />
<line x1="85.00" y1="326.00" x2="85.00" y2="362.00" stroke="#f6e6ef" stroke-width="0.4" />
<line x1="91.50" y1="326.00" x2="91.50" y2="362.00" stroke="#f6e6ef" stroke-width="0.4" />
<line x1="98.00" y1="326.00" x2="98.00" y2="362.00" stroke="#f6e6ef" stroke-width="0.4" />
<line x1="104.50" y1="326.00" x2="104.50" y2="362.00" stroke="#f6e6ef" stroke-width="0.4" />
<line x1="111.00" y1="326.00" x2="111.00" y2="362.00" stroke="#f6e6ef" stroke-width="0.4" />
<line x1="117.50" y1="326.00" x2="117.50" y2="362.00" stroke="#f6e6ef" stroke-width="0.4" />
<line x1="124.00" y1="326.00" x2="124.00" y2="362.00" stroke="#f6e6ef" stroke-width="0.4" />
<line x1="130.50" y1="326.00" x2="130.50" y2="362.00" stroke="#f6e6ef" stroke-width="0.4" />
<line x1="137.00" y1="326.00" x2="137.00" y2="362.00" stroke="#f6e6ef" stroke-width="0.4" />
<line x1="143.50" y1="326.00" x2="143.50" y2="362.00" stroke="#f6e6ef" stroke-width="0.4" />
<line x1="150.00" y1="326.00" x2="150.00" y2="362.00" stroke="#f6e6ef" stroke-width="0.4" />
<line x1="156.50" y1="326.00" x2="156.50" y2="362.00" stroke="#f6e6ef" stroke-width="0.4" />
<line x1="163.00" y1="326.00" x2="163.00" y2="362.00" stroke="#f6e6ef" stroke-width="0.4" />
<line x1="169.50" y1="326.00" x2="169.50" y2="362.00" stroke="#f6e6ef" stroke-width="0.4" />
<line x1="176.00" y1="326.00" x2="176.00" y2="362.00" stroke="#f6e6ef" stroke-width="0.4" />
<line x1="182.50" y1="326.00" x2="182.50" y2="362.00" stroke="#f6e6ef" stroke-width="0.4" />
<line x1="189.00" y1="326.00" x2="189.00" y2="362.00" stroke="#f6e6ef" stroke-width="0.4" />
<line x1="195.50" y1="326.00" x2="195.50" y2="362.00" stroke="#f6e6ef" stroke-width="0.4" />
<line x1="202.00" y1="326.00" x2="202.00" y2="362.00" stroke="#f6e6ef" stroke-width="0.4" />
<text x="51.00" y="328.30" font-size="2.6" text-anchor="end" font-weight="normal" font-style="normal" fill="#d03050" >27.5</text>
<text x="46.50" y="331.70" font-size="2.6" text-anchor="end" font-weight="normal" font-style="normal" fill="#b04050" >Ha</text>
<text x="50.50" y="335.80" font-size="2.6" text-anchor="end" font-weight="normal" font-style="normal" fill="#d03050" >0 _</text>
<text x="50.00" y="338.60" font-size="2.6" text-anchor="end" font-weight="normal" font-style="normal" fill="#d03080" >5.3 m</text>
<text x="46.50" y="342.20" font-size="2.6" text-anchor="end" font-weight="normal" font-style="normal" fill="#b04070" >Ha</text>
<text x="50.00" y="347.00" font-size="2.6" text-anchor="end" font-weight="normal" font-style="normal" fill="#d03080" >0 _</text>
<text x="50.00" y="349.80" font-size="2.6" text-anchor="end" font-weight="normal" font-style="normal" fill="#40a040" >0.3 m</text>
<text x="147.50" y="328.00" font-size="2.9" text-anchor="start" font-weight="normal" font-style="normal" fill="#d02030" >H3K4me1_d08a Regs</text>
<text x="112.50" y="340.40" font-size="2.9" text-anchor="start" font-weight="normal" font-style="normal" fill="#d02080" >H3K27ac_d08a Reg</text>
<text x="112.50" y="351.80" font-size="2.9" text-anchor="start" font-weight="normal" font-style="normal" fill="#30a030" >ETS1_d08a Reg</text>
<path d="M52.50,336.50 L52.50,336.50 L53.50,335.50 L56.00,334.90 L58.00,335.10 L60.00,335.90 L61.50,335.00 L63.00,333.30 L65.00,332.20 L67.00,331.90 L69.00,332.30 L72.00,332.50 L74.00,333.00 L76.00,333.90 L78.00,334.70 L80.00,335.30 L81.50,335.90 L83.00,334.70 L85.00,333.10 L87.00,332.10 L89.00,331.90 L91.00,332.50 L93.00,333.70 L95.00,335.10 L97.00,335.90 L100.00,335.70 L104.00,335.30 L110.00,335.10 L116.00,334.90 L121.00,334.30 L125.00,333.70 L127.00,332.70 L129.00,331.70 L131.00,331.90 L133.00,332.10 L135.00,331.30 L137.00,331.70 L139.00,332.10 L142.00,331.90 L145.00,332.20 L148.00,332.00 L151.00,331.90 L154.00,332.50 L157.00,333.90 L160.00,335.50 L163.00,336.00 L168.00,335.90 L172.00,335.70 L176.00,335.30 L178.00,334.90 L181.00,335.50 L184.00,335.10 L187.00,334.10 L190.00,333.10 L193.00,332.50 L196.00,331.90 L198.00,332.10 L200.00,332.90 L202.00,332.30 L205.00,333.10 L207.50,333.90 L207.60,336.50 L207.60,336.50 Z" fill="#e4101a"/>
<line x1="52.50" y1="336.50" x2="207.50" y2="336.50" stroke="#c01020" stroke-width="0.5" />
<path d="M52.00,347.50 L52.00,347.50 L53.00,347.20 L60.00,347.10 L70.00,347.00 L74.00,346.70 L76.00,345.90 L77.50,345.40 L79.00,345.90 L80.50,346.90 L82.50,347.10 L84.00,345.00 L85.50,341.50 L87.00,339.90 L89.00,339.90 L90.50,340.50 L92.00,342.00 L93.50,343.00 L95.50,343.90 L97.00,344.90 L98.50,343.50 L100.00,341.70 L102.00,340.90 L104.00,340.90 L106.00,342.10 L108.00,343.70 L110.00,344.90 L112.00,345.50 L114.00,344.70 L116.00,343.90 L118.00,343.70 L120.00,344.10 L122.00,343.70 L125.00,343.30 L127.00,343.50 L130.00,343.90 L133.00,344.50 L136.00,345.10 L139.00,345.70 L142.00,345.90 L145.00,345.50 L148.00,345.90 L151.00,346.70 L154.00,347.20 L160.00,347.20 L175.00,347.00 L190.00,347.10 L207.50,347.00 L207.60,347.50 L207.60,347.50 Z" fill="#ec1c8c"/>
<line x1="52.00" y1="347.50" x2="207.50" y2="347.50" stroke="#e060a0" stroke-width="0.5" />
<path d="M48.00,359.40 L48.00,359.40 L50.00,359.20 L60.00,359.10 L70.00,359.00 L80.00,359.00 L82.00,358.60 L83.50,355.90 L84.50,352.60 L85.50,351.80 L86.50,352.80 L87.50,355.20 L89.00,357.40 L91.00,358.20 L94.00,358.50 L96.00,358.90 L100.00,358.80 L103.00,358.20 L105.00,358.60 L110.00,359.00 L120.00,358.80 L128.00,358.40 L131.00,357.80 L134.00,358.00 L137.00,357.60 L140.00,358.40 L145.00,358.60 L150.00,358.00 L153.00,358.80 L160.00,359.00 L180.00,358.90 L195.00,358.60 L200.00,358.30 L205.00,358.60 L207.50,358.80 L207.60,359.40 L207.60,359.40 Z" fill="#3cc83c"/>
<line x1="48.00" y1="359.40" x2="207.50" y2="359.40" stroke="#a070b8" stroke-width="0.45" />
<text x="113.00" y="361.60" font-size="2.9" text-anchor="start" font-weight="normal" font-style="normal" fill="#3030a0" textLength="95" lengthAdjust="spacingAndGlyphs">UCSC Genes (RefSeq, GenBank, CCDS, Rfam, tRNAs &amp; Comparative Genomics)</text>
<rect x="76.80" y="362.40" width="6.30" height="2.20" fill="#1a1a8c" rx="0.8"/>
<line x1="83.00" y1="363.50" x2="150.00" y2="363.50" stroke="#5a5ab0" stroke-width="0.5" />
<ellipse cx="85.7" cy="363.5" rx="1.0" ry="0.7" fill="#1a1a8c"/>
<rect x="121.30" y="362.00" width="21.60" height="3.20" fill="#1a1a8c" />
<line x1="104.00" y1="366.00" x2="150.00" y2="366.00" stroke="#1a1a8c" stroke-width="0.5" />
<rect x="121.30" y="364.80" width="21.60" height="3.00" fill="#202090" />
<text x="115.00" y="367.30" font-size="2.8" text-anchor="end" font-weight="normal" font-style="normal" fill="#3030a0" >CCR4</text>
<text class="t" x="40.80" y="333.90" font-size="9.70" text-anchor="end" font-weight="normal" font-style="normal" fill="#231f20" textLength="40.3" lengthAdjust="spacingAndGlyphs" >H3K4me1</text>
<text class="t" x="42.20" y="347.80" font-size="9.70" text-anchor="end" font-weight="normal" font-style="normal" fill="#231f20" textLength="39.5" lengthAdjust="spacingAndGlyphs" >H3K27ac</text>
<text class="t" x="40.80" y="361.40" font-size="9.70" text-anchor="end" font-weight="normal" font-style="normal" fill="#231f20" textLength="21.3" lengthAdjust="spacingAndGlyphs" >ETS1</text>
<line x1="86.00" y1="369.50" x2="86.00" y2="379.90" stroke="#000" stroke-width="2.2" />
<path d="M84.3,370.3 L86.0,368.0 L87.7,370.3 Z" fill="#000"/>
</svg>
</body></html>
